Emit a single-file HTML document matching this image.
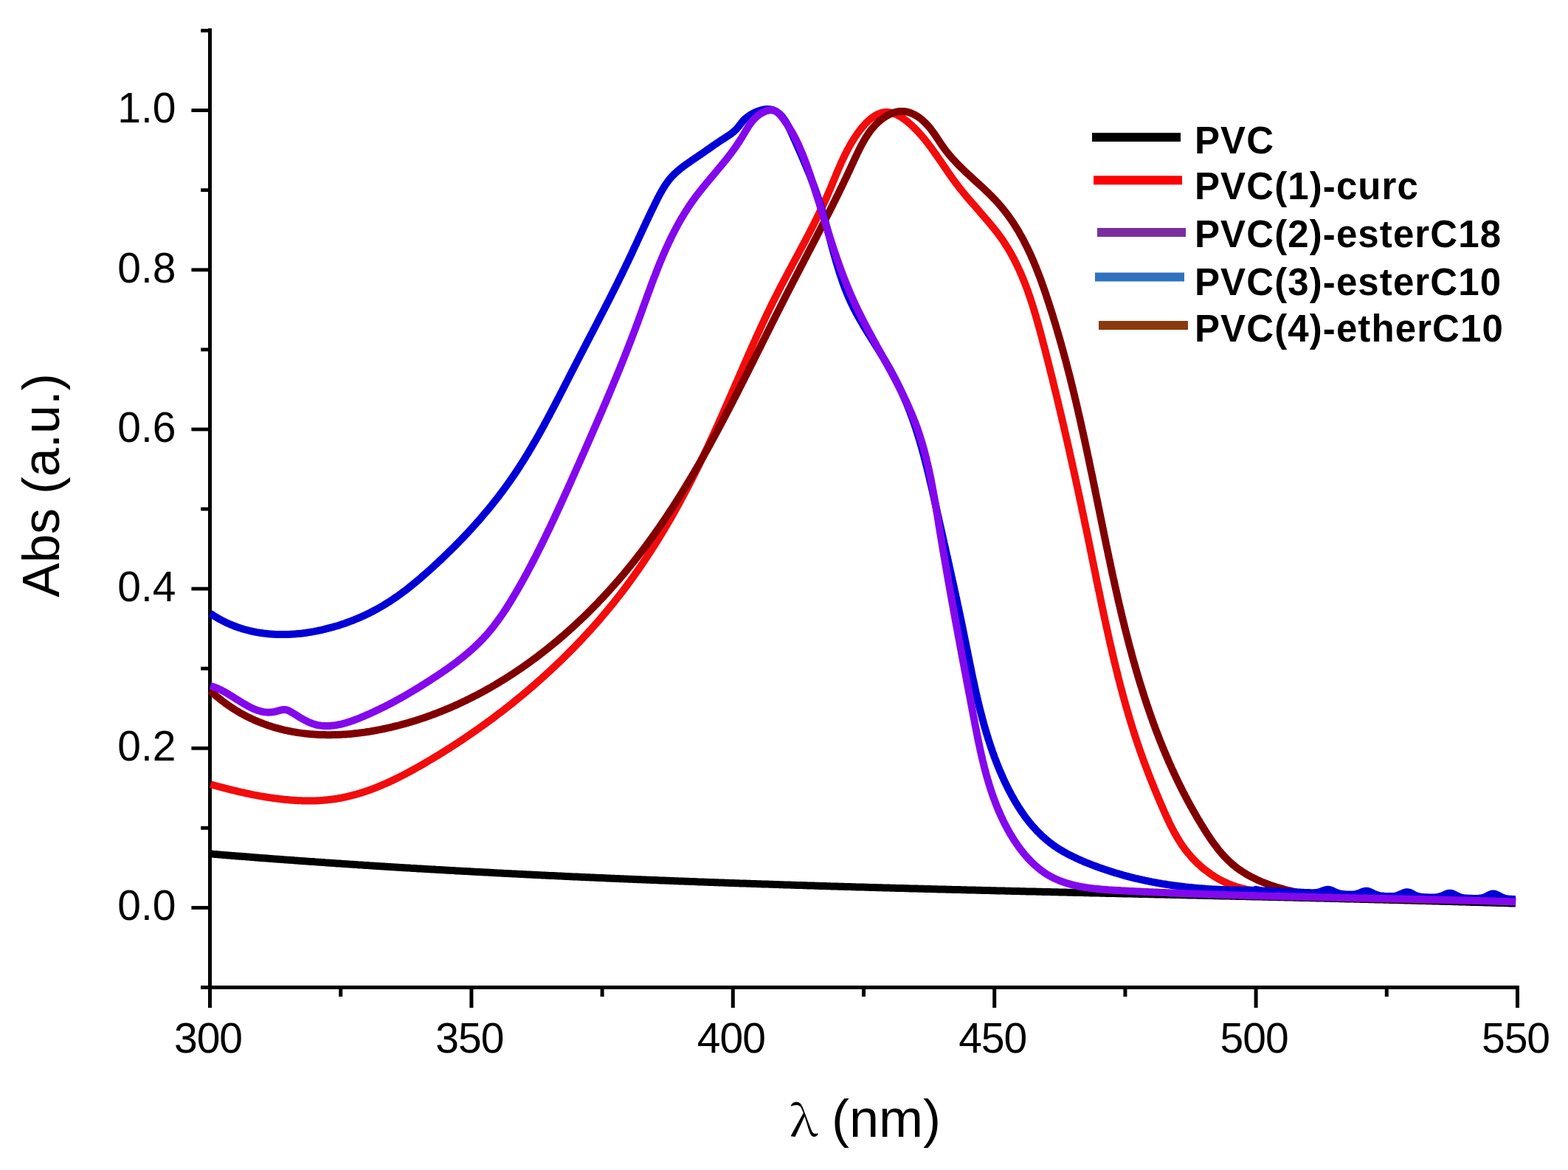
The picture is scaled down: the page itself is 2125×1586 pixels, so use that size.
<!DOCTYPE html>
<html>
<head>
<meta charset="utf-8">
<title>Abs spectra</title>
<style>
html, body { margin:0; padding:0; background:#fff; }
body { width:2125px; height:1586px; overflow:hidden; }
svg { display:block; font-family:'Liberation Sans', Arial, Helvetica, sans-serif; fill:#000; }
</style>
</head>
<body>
<svg xmlns="http://www.w3.org/2000/svg" width="2125" height="1586" viewBox="0 0 2125 1586">
<rect width="2125" height="1586" fill="#fff"/>
<rect x="282.0" y="38.4" width="5.0" height="1302.6" fill="#000"/>
<rect x="272.2" y="1336.0" width="1786.8" height="5.0" fill="#000"/>
<rect x="272.2" y="1336.2" width="14.8" height="4.8" fill="#000"/>
<rect x="259.4" y="1228.1" width="27.6" height="4.8" fill="#000"/>
<rect x="272.2" y="1120.0" width="14.8" height="4.8" fill="#000"/>
<rect x="259.4" y="1011.9" width="27.6" height="4.8" fill="#000"/>
<rect x="272.2" y="903.8" width="14.8" height="4.8" fill="#000"/>
<rect x="259.4" y="795.7" width="27.6" height="4.8" fill="#000"/>
<rect x="272.2" y="687.6" width="14.8" height="4.8" fill="#000"/>
<rect x="259.4" y="579.6" width="27.6" height="4.8" fill="#000"/>
<rect x="272.2" y="471.5" width="14.8" height="4.8" fill="#000"/>
<rect x="259.4" y="363.4" width="27.6" height="4.8" fill="#000"/>
<rect x="272.2" y="255.3" width="14.8" height="4.8" fill="#000"/>
<rect x="259.4" y="147.2" width="27.6" height="4.8" fill="#000"/>
<rect x="272.2" y="39.1" width="14.8" height="4.8" fill="#000"/>
<rect x="282.0" y="1336.0" width="5" height="30.2" fill="#000"/>
<rect x="459.2" y="1336.0" width="5" height="15.0" fill="#000"/>
<rect x="636.4" y="1336.0" width="5" height="30.2" fill="#000"/>
<rect x="813.6" y="1336.0" width="5" height="15.0" fill="#000"/>
<rect x="990.8" y="1336.0" width="5" height="30.2" fill="#000"/>
<rect x="1168.0" y="1336.0" width="5" height="15.0" fill="#000"/>
<rect x="1345.2" y="1336.0" width="5" height="30.2" fill="#000"/>
<rect x="1522.4" y="1336.0" width="5" height="15.0" fill="#000"/>
<rect x="1699.6" y="1336.0" width="5" height="30.2" fill="#000"/>
<rect x="1876.8" y="1336.0" width="5" height="15.0" fill="#000"/>
<rect x="2054.0" y="1336.0" width="5" height="30.2" fill="#000"/>
<text x="238.5" y="1247.3" text-anchor="end" font-size="57">0.0</text>
<text x="238.5" y="1031.1" text-anchor="end" font-size="57">0.2</text>
<text x="238.5" y="814.9" text-anchor="end" font-size="57">0.4</text>
<text x="238.5" y="598.8" text-anchor="end" font-size="57">0.6</text>
<text x="238.5" y="382.6" text-anchor="end" font-size="57">0.8</text>
<text x="238.5" y="166.4" text-anchor="end" font-size="57">1.0</text>
<text x="282.0" y="1426.5" text-anchor="middle" font-size="57" letter-spacing="-1">300</text>
<text x="636.4" y="1426.5" text-anchor="middle" font-size="57" letter-spacing="-1">350</text>
<text x="990.8" y="1426.5" text-anchor="middle" font-size="57" letter-spacing="-1">400</text>
<text x="1345.2" y="1426.5" text-anchor="middle" font-size="57" letter-spacing="-1">450</text>
<text x="1699.6" y="1426.5" text-anchor="middle" font-size="57" letter-spacing="-1">500</text>
<text x="2054.0" y="1426.5" text-anchor="middle" font-size="57" letter-spacing="-1">550</text>
<text transform="translate(79.5,658) rotate(-90)" text-anchor="middle" font-size="70">Abs (a.u.)</text>
<text transform="translate(1070.3,1539.7) scale(1.13,1)" font-size="58" font-family="'Noto Serif CJK SC', 'Liberation Serif', serif">λ</text>
<text x="1127" y="1540.6" font-size="72">(nm)</text>
<path d="M284.9,1157.4 286.9,1157.6 288.9,1157.8 290.8,1157.9 292.8,1158.1 294.8,1158.3 296.8,1158.4 298.8,1158.6 300.8,1158.7 302.8,1158.9 304.8,1159.1 306.8,1159.2 308.8,1159.4 310.8,1159.6 312.8,1159.7 314.8,1159.9 316.8,1160.0 318.8,1160.2 320.8,1160.4 322.8,1160.5 324.8,1160.7 326.8,1160.8 328.8,1161.0 330.8,1161.1 332.8,1161.3 334.8,1161.5 336.8,1161.6 338.8,1161.8 340.8,1161.9 342.8,1162.1 344.7,1162.2 346.7,1162.4 348.7,1162.5 350.7,1162.7 352.7,1162.9 354.7,1163.0 356.7,1163.2 358.7,1163.3 360.7,1163.5 362.7,1163.6 364.7,1163.8 366.7,1163.9 368.7,1164.1 370.7,1164.2 372.7,1164.4 374.7,1164.5 376.7,1164.7 378.7,1164.8 380.7,1165.0 382.7,1165.1 384.7,1165.3 386.7,1165.4 388.7,1165.6 390.7,1165.7 392.7,1165.8 394.7,1166.0 396.7,1166.1 398.7,1166.3 400.7,1166.4 402.7,1166.6 404.7,1166.7 406.7,1166.9 408.7,1167.0 410.7,1167.2 412.7,1167.3 414.6,1167.4 416.6,1167.6 418.6,1167.7 420.6,1167.9 422.6,1168.0 424.6,1168.1 426.6,1168.3 428.6,1168.4 430.6,1168.6 432.6,1168.7 434.6,1168.8 436.6,1169.0 438.6,1169.1 440.6,1169.3 442.6,1169.4 444.6,1169.5 446.6,1169.7 448.6,1169.8 450.6,1170.0 452.6,1170.1 454.6,1170.2 456.6,1170.4 458.6,1170.5 460.6,1170.6 462.6,1170.8 464.6,1170.9 466.6,1171.0 468.6,1171.2 470.6,1171.3 472.6,1171.4 474.6,1171.6 476.6,1171.7 478.6,1171.8 480.6,1172.0 482.6,1172.1 484.6,1172.2 486.6,1172.4 488.6,1172.5 490.6,1172.6 492.6,1172.8 494.6,1172.9 496.6,1173.0 498.6,1173.1 500.6,1173.3 502.6,1173.4 504.6,1173.5 506.6,1173.7 508.6,1173.8 510.6,1173.9 512.6,1174.0 514.5,1174.2 516.5,1174.3 518.5,1174.4 520.5,1174.5 522.5,1174.7 524.5,1174.8 526.5,1174.9 528.5,1175.0 530.5,1175.2 532.5,1175.3 534.5,1175.4 536.5,1175.5 538.5,1175.7 540.5,1175.8 542.5,1175.9 544.5,1176.0 546.5,1176.2 548.5,1176.3 550.5,1176.4 552.5,1176.5 554.5,1176.6 556.5,1176.8 558.5,1176.9 560.5,1177.0 562.5,1177.1 564.5,1177.2 566.5,1177.4 568.5,1177.5 570.5,1177.6 572.5,1177.7 574.5,1177.8 576.5,1177.9 578.5,1178.1 580.5,1178.2 582.5,1178.3 584.5,1178.4 586.5,1178.5 588.5,1178.6 590.5,1178.8 592.5,1178.9 594.5,1179.0 596.5,1179.1 598.5,1179.2 600.5,1179.3 602.5,1179.5 604.5,1179.6 606.5,1179.7 608.5,1179.8 610.5,1179.9 612.5,1180.0 614.5,1180.1 616.5,1180.2 618.5,1180.4 620.5,1180.5 622.5,1180.6 624.5,1180.7 626.5,1180.8 628.5,1180.9 630.5,1181.0 632.5,1181.1 634.5,1181.2 636.5,1181.3 638.5,1181.5 640.5,1181.6 642.5,1181.7 644.5,1181.8 646.5,1181.9 648.5,1182.0 650.5,1182.1 652.5,1182.2 654.5,1182.3 656.5,1182.4 658.5,1182.5 660.5,1182.6 662.5,1182.7 664.5,1182.8 666.5,1183.0 668.5,1183.1 670.5,1183.2 672.5,1183.3 674.5,1183.4 676.5,1183.5 678.5,1183.6 680.5,1183.7 682.5,1183.8 684.5,1183.9 686.5,1184.0 688.5,1184.1 690.5,1184.2 692.5,1184.3 694.5,1184.4 696.5,1184.5 698.5,1184.6 700.5,1184.7 702.5,1184.8 704.5,1184.9 706.5,1185.0 708.5,1185.1 710.5,1185.2 712.5,1185.3 714.5,1185.4 716.5,1185.5 718.5,1185.6 720.5,1185.7 722.5,1185.8 724.5,1185.9 726.5,1186.0 728.5,1186.1 730.5,1186.2 732.5,1186.3 734.5,1186.4 736.5,1186.5 738.5,1186.6 740.5,1186.7 742.5,1186.8 744.5,1186.9 746.5,1187.0 748.5,1187.0 750.5,1187.1 752.5,1187.2 754.5,1187.3 756.5,1187.4 758.5,1187.5 760.5,1187.6 762.5,1187.7 764.5,1187.8 766.5,1187.9 768.5,1188.0 770.5,1188.1 772.5,1188.2 774.5,1188.3 776.5,1188.4 778.5,1188.4 780.5,1188.5 782.5,1188.6 784.5,1188.7 786.5,1188.8 788.5,1188.9 790.5,1189.0 792.5,1189.1 794.5,1189.2 796.5,1189.3 798.5,1189.3 800.5,1189.4 802.5,1189.5 804.5,1189.6 806.5,1189.7 808.5,1189.8 810.5,1189.9 812.5,1190.0 814.5,1190.1 816.5,1190.1 818.5,1190.2 820.5,1190.3 822.5,1190.4 824.5,1190.5 826.5,1190.6 828.5,1190.7 830.5,1190.7 832.5,1190.8 834.5,1190.9 836.5,1191.0 838.5,1191.1 840.5,1191.2 842.5,1191.3 844.5,1191.3 846.5,1191.4 848.5,1191.5 850.5,1191.6 852.5,1191.7 854.5,1191.8 856.5,1191.8 858.5,1191.9 860.5,1192.0 862.5,1192.1 864.5,1192.2 866.5,1192.2 868.5,1192.3 870.5,1192.4 872.6,1192.5 874.6,1192.6 876.6,1192.7 878.6,1192.7 880.6,1192.8 882.6,1192.9 884.6,1193.0 886.6,1193.1 888.6,1193.1 890.6,1193.2 892.6,1193.3 894.6,1193.4 896.6,1193.5 898.6,1193.5 900.6,1193.6 902.6,1193.7 904.6,1193.8 906.6,1193.8 908.6,1193.9 910.6,1194.0 912.6,1194.1 914.6,1194.2 916.6,1194.2 918.6,1194.3 920.6,1194.4 922.6,1194.5 924.6,1194.5 926.6,1194.6 928.6,1194.7 930.6,1194.8 932.6,1194.8 934.6,1194.9 936.6,1195.0 938.6,1195.1 940.6,1195.1 942.6,1195.2 944.6,1195.3 946.6,1195.4 948.6,1195.4 950.6,1195.5 952.6,1195.6 954.6,1195.7 956.6,1195.7 958.6,1195.8 960.6,1195.9 962.6,1195.9 964.6,1196.0 966.6,1196.1 968.6,1196.2 970.6,1196.2 972.6,1196.3 974.6,1196.4 976.6,1196.5 978.6,1196.5 980.6,1196.6 982.6,1196.7 984.6,1196.7 986.6,1196.8 988.6,1196.9 990.6,1196.9 992.6,1197.0 994.7,1197.1 996.7,1197.2 998.7,1197.2 1000.7,1197.3 1002.7,1197.4 1004.7,1197.4 1006.7,1197.5 1008.7,1197.6 1010.7,1197.6 1012.7,1197.7 1014.7,1197.8 1016.7,1197.8 1018.7,1197.9 1020.7,1198.0 1022.7,1198.0 1024.7,1198.1 1026.7,1198.2 1028.7,1198.2 1030.7,1198.3 1032.7,1198.4 1034.7,1198.4 1036.7,1198.5 1038.7,1198.6 1040.7,1198.6 1042.7,1198.7 1044.7,1198.8 1046.7,1198.8 1048.7,1198.9 1050.7,1199.0 1052.7,1199.0 1054.7,1199.1 1056.7,1199.2 1058.7,1199.2 1060.7,1199.3 1062.7,1199.4 1064.7,1199.4 1066.7,1199.5 1068.7,1199.6 1070.7,1199.6 1072.7,1199.7 1074.7,1199.8 1076.7,1199.8 1078.7,1199.9 1080.7,1199.9 1082.7,1200.0 1084.7,1200.1 1086.7,1200.1 1088.8,1200.2 1090.8,1200.3 1092.8,1200.3 1094.8,1200.4 1096.8,1200.4 1098.8,1200.5 1100.8,1200.6 1102.8,1200.6 1104.8,1200.7 1106.8,1200.7 1108.8,1200.8 1110.8,1200.9 1112.8,1200.9 1114.8,1201.0 1116.8,1201.1 1118.8,1201.1 1120.8,1201.2 1122.8,1201.2 1124.8,1201.3 1126.8,1201.4 1128.8,1201.4 1130.8,1201.5 1132.8,1201.5 1134.8,1201.6 1136.8,1201.7 1138.8,1201.7 1140.8,1201.8 1142.8,1201.8 1144.8,1201.9 1146.8,1201.9 1148.8,1202.0 1150.8,1202.1 1152.8,1202.1 1154.8,1202.2 1156.8,1202.2 1158.8,1202.3 1160.8,1202.4 1162.8,1202.4 1164.8,1202.5 1166.8,1202.5 1168.8,1202.6 1170.9,1202.6 1172.9,1202.7 1174.9,1202.8 1176.9,1202.8 1178.9,1202.9 1180.9,1202.9 1182.9,1203.0 1184.9,1203.0 1186.9,1203.1 1188.9,1203.2 1190.9,1203.2 1192.9,1203.3 1194.9,1203.3 1196.9,1203.4 1198.9,1203.4 1200.9,1203.5 1202.9,1203.5 1204.9,1203.6 1206.9,1203.7 1208.9,1203.7 1210.9,1203.8 1212.9,1203.8 1214.9,1203.9 1216.9,1203.9 1218.9,1204.0 1220.9,1204.0 1222.9,1204.1 1224.9,1204.1 1226.9,1204.2 1228.9,1204.3 1230.9,1204.3 1232.9,1204.4 1234.9,1204.4 1236.9,1204.5 1238.9,1204.5 1240.9,1204.6 1242.9,1204.6 1244.9,1204.7 1247.0,1204.7 1249.0,1204.8 1251.0,1204.8 1253.0,1204.9 1255.0,1205.0 1257.0,1205.0 1259.0,1205.1 1261.0,1205.1 1263.0,1205.2 1265.0,1205.2 1267.0,1205.3 1269.0,1205.3 1271.0,1205.4 1273.0,1205.4 1275.0,1205.5 1277.0,1205.5 1279.0,1205.6 1281.0,1205.6 1283.0,1205.7 1285.0,1205.7 1287.0,1205.8 1289.0,1205.8 1291.0,1205.9 1293.0,1205.9 1295.0,1206.0 1297.0,1206.0 1299.0,1206.1 1301.0,1206.1 1303.0,1206.2 1305.0,1206.2 1307.0,1206.3 1309.0,1206.3 1311.0,1206.4 1313.0,1206.4 1315.0,1206.5 1317.1,1206.5 1319.1,1206.6 1321.1,1206.6 1323.1,1206.7 1325.1,1206.7 1327.1,1206.8 1329.1,1206.8 1331.1,1206.9 1333.1,1206.9 1335.1,1207.0 1337.1,1207.0 1339.1,1207.1 1341.1,1207.1 1343.1,1207.2 1345.1,1207.2 1347.1,1207.3 1349.1,1207.3 1351.1,1207.4 1353.1,1207.4 1355.1,1207.5 1357.1,1207.5 1359.1,1207.6 1361.1,1207.6 1363.1,1207.7 1365.1,1207.7 1367.1,1207.8 1369.1,1207.8 1371.1,1207.9 1373.1,1207.9 1375.1,1208.0 1377.1,1208.0 1379.1,1208.1 1381.1,1208.1 1383.1,1208.2 1385.1,1208.2 1387.2,1208.3 1389.2,1208.3 1391.2,1208.4 1393.2,1208.4 1395.2,1208.5 1397.2,1208.5 1399.2,1208.5 1401.2,1208.6 1403.2,1208.6 1405.2,1208.7 1407.2,1208.7 1409.2,1208.8 1411.2,1208.8 1413.2,1208.9 1415.2,1208.9 1417.2,1209.0 1419.2,1209.0 1421.2,1209.1 1423.2,1209.1 1425.2,1209.2 1427.2,1209.2 1429.2,1209.3 1431.2,1209.3 1433.2,1209.3 1435.2,1209.4 1437.2,1209.4 1439.2,1209.5 1441.2,1209.5 1443.2,1209.6 1445.2,1209.6 1447.2,1209.7 1449.2,1209.7 1451.2,1209.8 1453.2,1209.8 1455.3,1209.9 1457.3,1209.9 1459.3,1210.0 1461.3,1210.0 1463.3,1210.0 1465.3,1210.1 1467.3,1210.1 1469.3,1210.2 1471.3,1210.2 1473.3,1210.3 1475.3,1210.3 1477.3,1210.4 1479.3,1210.4 1481.3,1210.5 1483.3,1210.5 1485.3,1210.6 1487.3,1210.6 1489.3,1210.6 1491.3,1210.7 1493.3,1210.7 1495.3,1210.8 1497.3,1210.8 1499.3,1210.9 1501.3,1210.9 1503.3,1211.0 1505.3,1211.0 1507.3,1211.1 1509.3,1211.1 1511.3,1211.1 1513.3,1211.2 1515.3,1211.2 1517.3,1211.3 1519.3,1211.3 1521.3,1211.4 1523.3,1211.4 1525.4,1211.5 1527.4,1211.5 1529.4,1211.6 1531.4,1211.6 1533.4,1211.6 1535.4,1211.7 1537.4,1211.7 1539.4,1211.8 1541.4,1211.8 1543.4,1211.9 1545.4,1211.9 1547.4,1212.0 1549.4,1212.0 1551.4,1212.1 1553.4,1212.1 1555.4,1212.1 1557.4,1212.2 1559.4,1212.2 1561.4,1212.3 1563.4,1212.3 1565.4,1212.4 1567.4,1212.4 1569.4,1212.5 1571.4,1212.5 1573.4,1212.5 1575.4,1212.6 1577.4,1212.6 1579.4,1212.7 1581.4,1212.7 1583.4,1212.8 1585.4,1212.8 1587.4,1212.9 1589.4,1212.9 1591.4,1213.0 1593.4,1213.0 1595.5,1213.0 1597.5,1213.1 1599.5,1213.1 1601.5,1213.2 1603.5,1213.2 1605.5,1213.3 1607.5,1213.3 1609.5,1213.4 1611.5,1213.4 1613.5,1213.5 1615.5,1213.5 1617.5,1213.5 1619.5,1213.6 1621.5,1213.6 1623.5,1213.7 1625.5,1213.7 1627.5,1213.8 1629.5,1213.8 1631.5,1213.9 1633.5,1213.9 1635.5,1213.9 1637.5,1214.0 1639.5,1214.0 1641.5,1214.1 1643.5,1214.1 1645.5,1214.2 1647.5,1214.2 1649.5,1214.3 1651.5,1214.3 1653.5,1214.4 1655.5,1214.4 1657.5,1214.4 1659.5,1214.5 1661.5,1214.5 1663.5,1214.6 1665.5,1214.6 1667.5,1214.7 1669.6,1214.7 1671.6,1214.8 1673.6,1214.8 1675.6,1214.9 1677.6,1214.9 1679.6,1215.0 1681.6,1215.0 1683.6,1215.0 1685.6,1215.1 1687.6,1215.1 1689.6,1215.2 1691.6,1215.2 1693.6,1215.3 1695.6,1215.3 1697.6,1215.4 1699.6,1215.4 1701.6,1215.5 1703.6,1215.5 1705.6,1215.5 1707.6,1215.6 1709.6,1215.6 1711.6,1215.7 1713.6,1215.7 1715.6,1215.8 1717.6,1215.8 1719.6,1215.9 1721.6,1215.9 1723.6,1216.0 1725.6,1216.0 1727.6,1216.1 1729.6,1216.1 1731.6,1216.2 1733.6,1216.2 1735.6,1216.2 1737.6,1216.3 1739.6,1216.3 1741.6,1216.4 1743.6,1216.4 1745.6,1216.5 1747.7,1216.5 1749.7,1216.6 1751.7,1216.6 1753.7,1216.7 1755.7,1216.7 1757.7,1216.8 1759.7,1216.8 1761.7,1216.9 1763.7,1216.9 1765.7,1217.0 1767.7,1217.0 1769.7,1217.0 1771.7,1217.1 1773.7,1217.1 1775.7,1217.2 1777.7,1217.2 1779.7,1217.3 1781.7,1217.3 1783.7,1217.4 1785.7,1217.4 1787.7,1217.5 1789.7,1217.5 1791.7,1217.6 1793.7,1217.6 1795.7,1217.7 1797.7,1217.7 1799.7,1217.8 1801.7,1217.8 1803.7,1217.9 1805.7,1217.9 1807.7,1218.0 1809.7,1218.0 1811.7,1218.1 1813.7,1218.1 1815.7,1218.2 1817.7,1218.2 1819.7,1218.3 1821.7,1218.3 1823.7,1218.4 1825.7,1218.4 1827.7,1218.5 1829.7,1218.5 1831.7,1218.6 1833.7,1218.6 1835.7,1218.7 1837.8,1218.7 1839.8,1218.8 1841.8,1218.8 1843.8,1218.9 1845.8,1218.9 1847.8,1219.0 1849.8,1219.0 1851.8,1219.1 1853.8,1219.1 1855.8,1219.2 1857.8,1219.2 1859.8,1219.3 1861.8,1219.3 1863.8,1219.4 1865.8,1219.4 1867.8,1219.5 1869.8,1219.5 1871.8,1219.6 1873.8,1219.6 1875.8,1219.7 1877.8,1219.7 1879.8,1219.8 1881.8,1219.8 1883.8,1219.9 1885.8,1219.9 1887.8,1220.0 1889.8,1220.0 1891.8,1220.1 1893.8,1220.1 1895.8,1220.2 1897.8,1220.2 1899.8,1220.3 1901.8,1220.3 1903.8,1220.4 1905.8,1220.4 1907.8,1220.5 1909.8,1220.5 1911.8,1220.6 1913.8,1220.7 1915.8,1220.7 1917.8,1220.8 1919.8,1220.8 1921.8,1220.9 1923.8,1220.9 1925.8,1221.0 1927.8,1221.0 1929.8,1221.1 1931.8,1221.1 1933.8,1221.2 1935.8,1221.2 1937.8,1221.3 1939.8,1221.3 1941.8,1221.4 1943.8,1221.5 1945.8,1221.5 1947.8,1221.6 1949.9,1221.6 1951.9,1221.7 1953.9,1221.7 1955.9,1221.8 1957.9,1221.8 1959.9,1221.9 1961.9,1222.0 1963.9,1222.0 1965.9,1222.1 1967.9,1222.1 1969.9,1222.2 1971.9,1222.2 1973.9,1222.3 1975.9,1222.3 1977.9,1222.4 1979.9,1222.5 1981.9,1222.5 1983.9,1222.6 1985.9,1222.6 1987.9,1222.7 1989.9,1222.7 1991.9,1222.8 1993.9,1222.9 1995.9,1222.9 1997.9,1223.0 1999.9,1223.0 2001.9,1223.1 2003.9,1223.1 2005.9,1223.2 2007.9,1223.3 2009.9,1223.3 2011.9,1223.4 2013.9,1223.4 2015.9,1223.5 2017.9,1223.5 2019.9,1223.6 2021.9,1223.7 2023.9,1223.7 2025.9,1223.8 2027.9,1223.8 2029.9,1223.9 2031.9,1224.0 2033.9,1224.0 2035.9,1224.1 2037.9,1224.1 2039.9,1224.2 2041.9,1224.3 2043.9,1224.3 2045.9,1224.4 2047.9,1224.4 2049.9,1224.5 2051.9,1224.6 2053.9,1224.6" fill="none" stroke="#000" stroke-width="10" stroke-linejoin="round" stroke-linecap="butt"/>
<path d="M285.4,1063.2 287.2,1063.7 289.0,1064.2 290.8,1064.7 292.6,1065.2 294.4,1065.7 296.2,1066.2 298.1,1066.7 299.9,1067.2 301.8,1067.7 303.7,1068.2 305.5,1068.7 307.4,1069.1 309.3,1069.6 311.2,1070.1 313.1,1070.6 315.0,1071.0 316.9,1071.5 318.9,1072.0 320.8,1072.4 322.7,1072.9 324.7,1073.3 326.6,1073.8 328.6,1074.2 330.6,1074.7 332.5,1075.1 334.5,1075.5 336.5,1075.9 338.5,1076.3 340.5,1076.8 342.5,1077.2 344.5,1077.6 346.5,1077.9 348.5,1078.3 350.5,1078.7 352.5,1079.1 354.5,1079.4 356.6,1079.8 358.6,1080.1 360.6,1080.5 362.7,1080.8 364.7,1081.1 366.7,1081.4 368.8,1081.7 370.8,1082.0 372.9,1082.3 374.9,1082.5 377.0,1082.8 379.0,1083.1 381.1,1083.3 383.1,1083.5 385.2,1083.7 387.2,1083.9 389.3,1084.1 391.3,1084.3 393.4,1084.5 395.4,1084.7 397.5,1084.8 399.5,1084.9 401.6,1085.1 403.6,1085.2 405.7,1085.3 407.7,1085.3 409.8,1085.4 411.8,1085.5 413.9,1085.5 415.9,1085.5 418.0,1085.5 420.0,1085.5 422.0,1085.5 424.1,1085.5 426.1,1085.4 428.1,1085.4 430.1,1085.3 432.2,1085.2 434.2,1085.1 436.2,1084.9 438.2,1084.8 440.2,1084.6 442.2,1084.4 444.2,1084.2 446.2,1084.0 448.1,1083.8 450.1,1083.5 452.1,1083.3 454.1,1083.0 456.0,1082.7 458.0,1082.4 459.9,1082.0 461.9,1081.7 463.8,1081.3 465.7,1080.9 467.7,1080.5 469.6,1080.1 471.5,1079.6 473.4,1079.2 475.3,1078.7 477.3,1078.2 479.2,1077.7 481.1,1077.2 482.9,1076.7 484.8,1076.1 486.7,1075.6 488.6,1075.0 490.5,1074.4 492.3,1073.8 494.2,1073.2 496.1,1072.6 497.9,1071.9 499.8,1071.3 501.6,1070.6 503.5,1069.9 505.3,1069.3 507.2,1068.6 509.0,1067.8 510.8,1067.1 512.7,1066.4 514.5,1065.6 516.3,1064.9 518.1,1064.1 519.9,1063.3 521.8,1062.5 523.6,1061.7 525.4,1060.9 527.2,1060.1 529.0,1059.3 530.8,1058.4 532.6,1057.6 534.3,1056.7 536.1,1055.9 537.9,1055.0 539.7,1054.1 541.5,1053.2 543.2,1052.3 545.0,1051.4 546.8,1050.5 548.5,1049.6 550.3,1048.7 552.1,1047.7 553.8,1046.8 555.6,1045.9 557.3,1044.9 559.1,1043.9 560.8,1043.0 562.6,1042.0 564.3,1041.0 566.1,1040.0 567.8,1039.1 569.5,1038.1 571.3,1037.1 573.0,1036.1 574.7,1035.1 576.5,1034.1 578.2,1033.0 579.9,1032.0 581.6,1031.0 583.4,1030.0 585.1,1029.0 586.8,1027.9 588.5,1026.9 590.2,1025.9 591.9,1024.8 593.7,1023.8 595.4,1022.7 597.1,1021.7 598.8,1020.6 600.5,1019.6 602.2,1018.5 603.9,1017.4 605.6,1016.4 607.3,1015.3 609.0,1014.2 610.7,1013.1 612.3,1012.0 614.0,1011.0 615.7,1009.9 617.4,1008.8 619.1,1007.7 620.8,1006.6 622.4,1005.5 624.1,1004.4 625.8,1003.3 627.5,1002.1 629.1,1001.0 630.8,999.9 632.5,998.8 634.1,997.6 635.8,996.5 637.4,995.4 639.1,994.2 640.7,993.1 642.4,991.9 644.0,990.8 645.7,989.6 647.3,988.5 649.0,987.3 650.6,986.2 652.3,985.0 653.9,983.8 655.5,982.7 657.1,981.5 658.8,980.3 660.4,979.1 662.0,977.9 663.6,976.7 665.3,975.6 666.9,974.4 668.5,973.2 670.1,972.0 671.7,970.7 673.3,969.5 674.9,968.3 676.5,967.1 678.1,965.9 679.7,964.7 681.3,963.4 682.9,962.2 684.5,961.0 686.1,959.7 687.7,958.5 689.2,957.3 690.8,956.0 692.4,954.8 694.0,953.5 695.5,952.3 697.1,951.0 698.7,949.7 700.2,948.5 701.8,947.2 703.3,945.9 704.9,944.6 706.4,943.4 708.0,942.1 709.5,940.8 711.1,939.5 712.6,938.2 714.1,936.9 715.7,935.6 717.2,934.3 718.7,933.0 720.3,931.7 721.8,930.4 723.3,929.1 724.8,927.8 726.3,926.4 727.8,925.1 729.3,923.8 730.8,922.5 732.4,921.1 733.8,919.8 735.3,918.4 736.8,917.1 738.3,915.8 739.8,914.4 741.3,913.0 742.8,911.7 744.2,910.3 745.7,909.0 747.2,907.6 748.7,906.2 750.1,904.9 751.6,903.5 753.0,902.1 754.5,900.7 755.9,899.3 757.4,898.0 758.8,896.6 760.3,895.2 761.7,893.8 763.2,892.4 764.6,891.0 766.0,889.6 767.4,888.1 768.9,886.7 770.3,885.3 771.7,883.9 773.1,882.5 774.5,881.0 775.9,879.6 777.3,878.2 778.7,876.8 780.1,875.3 781.5,873.9 782.9,872.4 784.3,871.0 785.7,869.5 787.0,868.1 788.4,866.6 789.8,865.2 791.1,863.7 792.5,862.2 793.9,860.8 795.2,859.3 796.6,857.8 797.9,856.3 799.3,854.9 800.6,853.4 801.9,851.9 803.3,850.4 804.6,848.9 805.9,847.4 807.3,845.9 808.6,844.4 809.9,842.9 811.2,841.4 812.5,839.9 813.8,838.4 815.1,836.9 816.4,835.3 817.7,833.8 819.0,832.3 820.3,830.8 821.6,829.2 822.8,827.7 824.1,826.2 825.4,824.6 826.7,823.1 827.9,821.5 829.2,820.0 830.4,818.4 831.7,816.9 832.9,815.3 834.2,813.8 835.4,812.2 836.6,810.6 837.9,809.1 839.1,807.5 840.3,805.9 841.5,804.3 842.8,802.8 844.0,801.2 845.2,799.6 846.4,798.0 847.6,796.4 848.8,794.8 850.0,793.2 851.1,791.6 852.3,790.0 853.5,788.4 854.7,786.8 855.8,785.2 857.0,783.6 858.2,781.9 859.3,780.3 860.5,778.7 861.6,777.1 862.8,775.4 863.9,773.8 865.1,772.2 866.2,770.5 867.3,768.9 868.5,767.3 869.6,765.6 870.7,764.0 871.8,762.3 872.9,760.7 874.0,759.0 875.1,757.4 876.3,755.7 877.3,754.0 878.4,752.4 879.5,750.7 880.6,749.0 881.7,747.4 882.8,745.7 883.9,744.0 884.9,742.3 886.0,740.6 887.1,739.0 888.1,737.3 889.2,735.6 890.2,733.9 891.3,732.2 892.4,730.5 893.4,728.8 894.4,727.1 895.5,725.4 896.5,723.7 897.5,722.0 898.6,720.3 899.6,718.6 900.6,716.9 901.6,715.2 902.7,713.4 903.7,711.7 904.7,710.0 905.7,708.3 906.7,706.6 907.7,704.8 908.7,703.1 909.7,701.4 910.7,699.6 911.7,697.9 912.6,696.2 913.6,694.4 914.6,692.7 915.6,690.9 916.6,689.2 917.5,687.5 918.5,685.7 919.5,684.0 920.4,682.2 921.4,680.5 922.3,678.7 923.3,676.9 924.2,675.2 925.2,673.4 926.1,671.7 927.1,669.9 928.0,668.1 928.9,666.4 929.9,664.6 930.8,662.8 931.7,661.0 932.7,659.3 933.6,657.5 934.5,655.7 935.4,653.9 936.3,652.2 937.2,650.4 938.2,648.6 939.1,646.8 940.0,645.0 940.9,643.2 941.8,641.4 942.7,639.7 943.6,637.9 944.5,636.1 945.3,634.3 946.2,632.5 947.1,630.7 948.0,628.9 948.9,627.1 949.8,625.3 950.6,623.5 951.5,621.7 952.4,619.9 953.2,618.1 954.1,616.2 955.0,614.4 955.8,612.6 956.7,610.8 957.6,609.0 958.4,607.2 959.3,605.4 960.1,603.6 961.0,601.7 961.8,599.9 962.7,598.1 963.5,596.3 964.3,594.5 965.2,592.6 966.0,590.8 966.8,589.0 967.7,587.2 968.5,585.3 969.3,583.5 970.2,581.7 971.0,579.8 971.8,578.0 972.6,576.2 973.5,574.3 974.3,572.5 975.1,570.7 975.9,568.8 976.7,567.0 977.6,565.2 978.4,563.3 979.2,561.5 980.0,559.7 980.8,557.8 981.6,556.0 982.4,554.2 983.2,552.3 984.0,550.5 984.8,548.6 985.7,546.8 986.5,545.0 987.3,543.1 988.1,541.3 988.9,539.4 989.7,537.6 990.5,535.8 991.3,533.9 992.1,532.1 992.9,530.2 993.7,528.4 994.5,526.5 995.3,524.7 996.1,522.9 996.9,521.0 997.7,519.2 998.5,517.3 999.3,515.5 1000.1,513.7 1000.9,511.8 1001.7,510.0 1002.5,508.1 1003.3,506.3 1004.1,504.5 1004.9,502.6 1005.7,500.8 1006.5,498.9 1007.3,497.1 1008.1,495.3 1008.9,493.4 1009.7,491.6 1010.5,489.7 1011.3,487.9 1012.1,486.1 1012.9,484.2 1013.7,482.4 1014.5,480.6 1015.3,478.7 1016.2,476.9 1017.0,475.1 1017.8,473.2 1018.6,471.4 1019.4,469.6 1020.2,467.8 1021.0,465.9 1021.9,464.1 1022.7,462.3 1023.5,460.5 1024.3,458.6 1025.2,456.8 1026.0,455.0 1026.8,453.2 1027.6,451.3 1028.5,449.5 1029.3,447.7 1030.1,445.9 1031.0,444.1 1031.8,442.3 1032.7,440.5 1033.5,438.6 1034.4,436.8 1035.2,435.0 1036.0,433.2 1036.9,431.4 1037.8,429.6 1038.6,427.8 1039.5,426.0 1040.3,424.2 1041.2,422.4 1042.1,420.6 1042.9,418.8 1043.8,417.0 1044.7,415.2 1045.5,413.4 1046.4,411.6 1047.3,409.9 1048.2,408.1 1049.1,406.3 1050.0,404.5 1050.9,402.7 1051.8,401.0 1052.7,399.2 1053.6,397.4 1054.5,395.6 1055.4,393.9 1056.3,392.1 1057.2,390.3 1058.1,388.6 1059.0,386.8 1059.9,385.0 1060.9,383.3 1061.8,381.5 1062.7,379.8 1063.6,378.0 1064.6,376.2 1065.5,374.5 1066.4,372.7 1067.4,371.0 1068.3,369.2 1069.2,367.5 1070.2,365.7 1071.1,364.0 1072.1,362.2 1073.0,360.4 1073.9,358.7 1074.9,356.9 1075.8,355.2 1076.8,353.4 1077.7,351.7 1078.6,349.9 1079.6,348.2 1080.5,346.4 1081.5,344.7 1082.4,342.9 1083.3,341.2 1084.3,339.4 1085.2,337.7 1086.2,335.9 1087.1,334.1 1088.0,332.4 1089.0,330.6 1089.9,328.9 1090.8,327.1 1091.8,325.3 1092.7,323.6 1093.6,321.8 1094.5,320.0 1095.5,318.3 1096.4,316.5 1097.3,314.7 1098.2,312.9 1099.1,311.2 1100.1,309.4 1101.0,307.6 1101.9,305.8 1102.8,304.0 1103.7,302.2 1104.6,300.4 1105.5,298.7 1106.4,296.9 1107.2,295.1 1108.1,293.3 1109.0,291.5 1109.9,289.6 1110.8,287.8 1111.6,286.0 1112.5,284.2 1113.4,282.4 1114.2,280.6 1115.1,278.7 1115.9,276.9 1116.8,275.1 1117.6,273.2 1118.4,271.4 1119.3,269.6 1120.1,267.7 1120.9,265.9 1121.7,264.0 1122.5,262.1 1123.3,260.3 1124.1,258.4 1124.9,256.5 1125.7,254.7 1126.5,252.8 1127.3,250.9 1128.1,249.0 1128.8,247.1 1129.6,245.2 1130.4,243.4 1131.2,241.5 1132.0,239.6 1132.7,237.7 1133.5,235.8 1134.3,233.9 1135.1,232.0 1135.9,230.1 1136.7,228.2 1137.6,226.4 1138.4,224.5 1139.2,222.6 1140.0,220.7 1140.9,218.8 1141.8,217.0 1142.6,215.1 1143.5,213.2 1144.4,211.4 1145.3,209.5 1146.2,207.7 1147.2,205.8 1148.1,204.0 1149.1,202.2 1150.1,200.4 1151.1,198.5 1152.1,196.7 1153.1,194.9 1154.2,193.1 1155.3,191.4 1156.4,189.6 1157.5,187.8 1158.6,186.1 1159.8,184.3 1161.0,182.6 1162.2,180.8 1163.5,179.1 1164.7,177.4 1166.0,175.8 1167.3,174.1 1168.6,172.5 1170.0,171.0 1171.3,169.4 1172.7,167.9 1174.1,166.5 1175.5,165.1 1177.0,163.7 1178.4,162.4 1179.9,161.2 1181.4,160.0 1182.9,158.9 1184.4,157.9 1185.9,156.9 1187.5,156.0 1189.0,155.2 1190.6,154.5 1192.2,153.8 1193.7,153.3 1195.3,152.8 1196.9,152.5 1198.6,152.2 1200.2,152.1 1201.8,152.0 1203.5,152.1 1205.1,152.3 1206.7,152.6 1208.4,153.0 1210.1,153.4 1211.7,154.0 1213.4,154.6 1215.0,155.4 1216.7,156.2 1218.3,157.1 1219.9,158.0 1221.6,159.0 1223.2,160.1 1224.8,161.2 1226.4,162.4 1228.0,163.6 1229.6,164.8 1231.1,166.1 1232.7,167.5 1234.2,168.8 1235.7,170.2 1237.2,171.6 1238.7,173.0 1240.1,174.5 1241.6,175.9 1243.0,177.4 1244.4,178.9 1245.8,180.4 1247.1,181.9 1248.5,183.4 1249.8,185.0 1251.1,186.5 1252.4,188.1 1253.7,189.7 1255.0,191.3 1256.3,192.9 1257.5,194.5 1258.8,196.2 1260.0,197.8 1261.3,199.4 1262.5,201.1 1263.7,202.8 1264.9,204.4 1266.1,206.1 1267.3,207.8 1268.5,209.5 1269.7,211.2 1270.8,212.9 1272.0,214.6 1273.2,216.3 1274.3,218.0 1275.5,219.7 1276.7,221.4 1277.8,223.1 1279.0,224.8 1280.2,226.5 1281.3,228.2 1282.5,229.9 1283.6,231.6 1284.8,233.3 1286.0,235.0 1287.2,236.7 1288.3,238.4 1289.5,240.1 1290.7,241.8 1291.9,243.4 1293.1,245.1 1294.3,246.7 1295.5,248.4 1296.8,250.0 1298.0,251.6 1299.3,253.3 1300.5,254.9 1301.8,256.5 1303.0,258.0 1304.3,259.6 1305.6,261.2 1306.9,262.8 1308.2,264.3 1309.5,265.9 1310.8,267.4 1312.1,269.0 1313.4,270.5 1314.7,272.0 1316.0,273.6 1317.3,275.1 1318.7,276.6 1320.0,278.1 1321.3,279.6 1322.6,281.1 1323.9,282.6 1325.3,284.1 1326.6,285.6 1327.9,287.2 1329.2,288.7 1330.5,290.2 1331.8,291.7 1333.1,293.2 1334.4,294.7 1335.7,296.2 1337.0,297.7 1338.3,299.2 1339.6,300.7 1340.9,302.2 1342.1,303.8 1343.4,305.3 1344.6,306.8 1345.9,308.3 1347.1,309.9 1348.3,311.4 1349.6,313.0 1350.8,314.5 1352.0,316.1 1353.1,317.7 1354.3,319.2 1355.5,320.8 1356.6,322.4 1357.7,324.0 1358.9,325.6 1360.0,327.2 1361.0,328.9 1362.1,330.5 1363.2,332.2 1364.2,333.8 1365.3,335.5 1366.3,337.2 1367.3,338.8 1368.3,340.5 1369.3,342.2 1370.2,343.9 1371.2,345.6 1372.1,347.4 1373.0,349.1 1374.0,350.8 1374.9,352.6 1375.8,354.3 1376.6,356.1 1377.5,357.9 1378.4,359.6 1379.2,361.4 1380.1,363.2 1380.9,365.0 1381.7,366.8 1382.5,368.6 1383.3,370.4 1384.1,372.2 1384.9,374.1 1385.7,375.9 1386.4,377.7 1387.2,379.6 1387.9,381.4 1388.6,383.3 1389.4,385.1 1390.1,387.0 1390.8,388.9 1391.5,390.8 1392.2,392.6 1392.9,394.5 1393.5,396.4 1394.2,398.3 1394.9,400.2 1395.5,402.1 1396.1,404.0 1396.8,405.9 1397.4,407.8 1398.0,409.7 1398.7,411.6 1399.3,413.6 1399.9,415.5 1400.5,417.4 1401.1,419.3 1401.7,421.3 1402.3,423.2 1402.8,425.2 1403.4,427.1 1404.0,429.0 1404.5,431.0 1405.1,432.9 1405.7,434.9 1406.2,436.8 1406.8,438.8 1407.3,440.7 1407.9,442.7 1408.4,444.6 1408.9,446.6 1409.5,448.6 1410.0,450.5 1410.5,452.5 1411.0,454.4 1411.6,456.4 1412.1,458.4 1412.6,460.3 1413.1,462.3 1413.6,464.2 1414.1,466.2 1414.6,468.2 1415.2,470.1 1415.7,472.1 1416.2,474.0 1416.7,476.0 1417.2,478.0 1417.7,479.9 1418.2,481.9 1418.7,483.8 1419.2,485.8 1419.7,487.7 1420.2,489.7 1420.7,491.6 1421.2,493.6 1421.7,495.6 1422.2,497.5 1422.7,499.5 1423.2,501.4 1423.6,503.4 1424.1,505.3 1424.6,507.3 1425.1,509.2 1425.6,511.2 1426.1,513.1 1426.6,515.1 1427.0,517.0 1427.5,519.0 1428.0,520.9 1428.5,522.9 1429.0,524.8 1429.4,526.8 1429.9,528.7 1430.4,530.7 1430.9,532.6 1431.3,534.6 1431.8,536.5 1432.3,538.5 1432.7,540.4 1433.2,542.4 1433.7,544.3 1434.1,546.3 1434.6,548.2 1435.1,550.2 1435.5,552.1 1436.0,554.1 1436.5,556.0 1436.9,558.0 1437.4,559.9 1437.8,561.9 1438.3,563.8 1438.8,565.8 1439.2,567.7 1439.7,569.7 1440.1,571.6 1440.6,573.5 1441.0,575.5 1441.5,577.4 1441.9,579.4 1442.4,581.3 1442.8,583.3 1443.3,585.2 1443.7,587.2 1444.2,589.1 1444.6,591.1 1445.1,593.0 1445.5,595.0 1446.0,596.9 1446.4,598.8 1446.8,600.8 1447.3,602.7 1447.7,604.7 1448.2,606.6 1448.6,608.6 1449.0,610.5 1449.5,612.5 1449.9,614.4 1450.3,616.4 1450.8,618.3 1451.2,620.3 1451.6,622.2 1452.1,624.1 1452.5,626.1 1452.9,628.0 1453.4,630.0 1453.8,631.9 1454.2,633.9 1454.7,635.8 1455.1,637.8 1455.5,639.7 1455.9,641.7 1456.4,643.6 1456.8,645.6 1457.2,647.5 1457.6,649.4 1458.1,651.4 1458.5,653.3 1458.9,655.3 1459.3,657.2 1459.8,659.2 1460.2,661.1 1460.6,663.1 1461.0,665.0 1461.4,667.0 1461.9,668.9 1462.3,670.9 1462.7,672.8 1463.1,674.8 1463.5,676.7 1463.9,678.7 1464.4,680.6 1464.8,682.6 1465.2,684.5 1465.6,686.5 1466.0,688.4 1466.4,690.4 1466.8,692.3 1467.2,694.3 1467.7,696.2 1468.1,698.2 1468.5,700.1 1468.9,702.1 1469.3,704.0 1469.7,706.0 1470.1,708.0 1470.5,709.9 1470.9,711.9 1471.3,713.8 1471.7,715.8 1472.2,717.7 1472.6,719.7 1473.0,721.6 1473.4,723.6 1473.8,725.6 1474.2,727.5 1474.6,729.5 1475.0,731.4 1475.4,733.4 1475.8,735.3 1476.2,737.3 1476.6,739.3 1477.0,741.2 1477.4,743.2 1477.8,745.1 1478.2,747.1 1478.6,749.1 1479.0,751.0 1479.4,753.0 1479.8,754.9 1480.2,756.9 1480.6,758.9 1481.0,760.8 1481.4,762.8 1481.8,764.8 1482.2,766.7 1482.6,768.7 1483.0,770.7 1483.4,772.6 1483.8,774.6 1484.2,776.6 1484.6,778.5 1485.0,780.5 1485.4,782.5 1485.8,784.4 1486.2,786.4 1486.6,788.4 1487.0,790.3 1487.4,792.3 1487.8,794.3 1488.2,796.2 1488.6,798.2 1489.1,800.2 1489.5,802.1 1489.9,804.1 1490.3,806.1 1490.7,808.0 1491.1,810.0 1491.5,812.0 1491.9,813.9 1492.3,815.9 1492.7,817.9 1493.1,819.8 1493.5,821.8 1494.0,823.8 1494.4,825.7 1494.8,827.7 1495.2,829.7 1495.6,831.6 1496.0,833.6 1496.5,835.6 1496.9,837.5 1497.3,839.5 1497.7,841.5 1498.2,843.4 1498.6,845.4 1499.0,847.3 1499.4,849.3 1499.9,851.3 1500.3,853.2 1500.7,855.2 1501.2,857.2 1501.6,859.1 1502.0,861.1 1502.5,863.0 1502.9,865.0 1503.3,867.0 1503.8,868.9 1504.2,870.9 1504.7,872.8 1505.1,874.8 1505.6,876.8 1506.0,878.7 1506.5,880.7 1506.9,882.6 1507.4,884.6 1507.8,886.5 1508.3,888.5 1508.8,890.4 1509.2,892.4 1509.7,894.3 1510.1,896.3 1510.6,898.3 1511.1,900.2 1511.6,902.2 1512.0,904.1 1512.5,906.0 1513.0,908.0 1513.5,909.9 1514.0,911.9 1514.4,913.8 1514.9,915.8 1515.4,917.7 1515.9,919.7 1516.4,921.6 1516.9,923.5 1517.4,925.5 1517.9,927.4 1518.4,929.4 1518.9,931.3 1519.4,933.2 1520.0,935.2 1520.5,937.1 1521.0,939.0 1521.5,941.0 1522.0,942.9 1522.6,944.8 1523.1,946.8 1523.6,948.7 1524.2,950.6 1524.7,952.5 1525.2,954.5 1525.8,956.4 1526.3,958.3 1526.9,960.2 1527.4,962.1 1528.0,964.1 1528.6,966.0 1529.1,967.9 1529.7,969.8 1530.3,971.7 1530.8,973.6 1531.4,975.6 1532.0,977.5 1532.6,979.4 1533.1,981.3 1533.7,983.2 1534.3,985.1 1534.9,987.0 1535.5,988.9 1536.1,990.8 1536.7,992.7 1537.3,994.6 1537.9,996.5 1538.6,998.4 1539.2,1000.3 1539.8,1002.2 1540.4,1004.1 1541.1,1006.0 1541.7,1007.8 1542.3,1009.7 1543.0,1011.6 1543.6,1013.5 1544.3,1015.4 1544.9,1017.3 1545.6,1019.1 1546.3,1021.0 1546.9,1022.9 1547.6,1024.8 1548.3,1026.6 1548.9,1028.5 1549.6,1030.4 1550.3,1032.3 1551.0,1034.1 1551.7,1036.0 1552.4,1037.9 1553.1,1039.7 1553.8,1041.6 1554.5,1043.4 1555.2,1045.3 1555.9,1047.2 1556.6,1049.0 1557.3,1050.9 1558.1,1052.8 1558.8,1054.6 1559.5,1056.5 1560.3,1058.3 1561.0,1060.2 1561.7,1062.0 1562.5,1063.9 1563.2,1065.7 1564.0,1067.6 1564.7,1069.4 1565.5,1071.3 1566.3,1073.2 1567.0,1075.0 1567.8,1076.9 1568.6,1078.7 1569.4,1080.6 1570.1,1082.4 1570.9,1084.3 1571.7,1086.1 1572.5,1088.0 1573.3,1089.8 1574.1,1091.6 1574.9,1093.5 1575.7,1095.3 1576.5,1097.2 1577.3,1099.0 1578.1,1100.9 1579.0,1102.7 1579.8,1104.6 1580.6,1106.4 1581.5,1108.3 1582.3,1110.1 1583.2,1111.9 1584.0,1113.7 1584.9,1115.6 1585.8,1117.4 1586.7,1119.2 1587.6,1121.0 1588.5,1122.8 1589.4,1124.6 1590.4,1126.3 1591.3,1128.1 1592.3,1129.9 1593.3,1131.6 1594.3,1133.4 1595.3,1135.1 1596.3,1136.8 1597.4,1138.5 1598.4,1140.2 1599.5,1141.9 1600.6,1143.6 1601.7,1145.3 1602.8,1146.9 1604.0,1148.5 1605.2,1150.2 1606.4,1151.8 1607.6,1153.4 1608.8,1154.9 1610.1,1156.5 1611.4,1158.0 1612.7,1159.5 1614.0,1161.1 1615.3,1162.5 1616.7,1164.0 1618.0,1165.5 1619.4,1166.9 1620.8,1168.3 1622.3,1169.7 1623.7,1171.1 1625.2,1172.4 1626.7,1173.8 1628.2,1175.1 1629.7,1176.4 1631.2,1177.7 1632.8,1178.9 1634.4,1180.1 1636.0,1181.3 1637.6,1182.5 1639.2,1183.7 1640.8,1184.8 1642.5,1186.0 1644.1,1187.0 1645.8,1188.1 1647.5,1189.2 1649.2,1190.2 1650.9,1191.2 1652.7,1192.1 1654.4,1193.1 1656.2,1194.0 1658.0,1194.9 1659.8,1195.8 1661.6,1196.6 1663.4,1197.4 1665.2,1198.2 1667.0,1199.0 1668.9,1199.7 1670.8,1200.4 1672.6,1201.0 1674.5,1201.7 1676.4,1202.3 1678.3,1202.9 1680.2,1203.4 1682.2,1204.0 1684.1,1204.5 1686.0,1204.9 1688.0,1205.4 1690.0,1205.8 1691.9,1206.3 1693.9,1206.6 1695.9,1207.0 1697.9,1207.4 1699.8,1207.7 1701.8,1208.0 1703.8,1208.4 1705.8,1208.6 1707.8,1208.9 1709.8,1209.2 1711.8,1209.5 1713.8,1209.7 1715.8,1209.9 1717.9,1210.2 1719.9,1210.4 1721.9,1210.6 1723.9,1210.8 1725.9,1211.0 1727.9,1211.2 1729.9,1211.4 1731.9,1211.6 1733.9,1211.8 1735.9,1212.0 1737.9,1212.2 1739.9,1212.3 1741.9,1212.5 1743.9,1212.7 1745.9,1212.8 1747.9,1213.0 1749.9,1213.1 1751.9,1213.3 1753.9,1213.4 1755.9,1213.6 1757.9,1213.7 1759.9,1213.8 1761.9,1213.9 1763.9,1214.1 1765.9,1214.2 1767.9,1214.3 1769.9,1214.4 1771.9,1214.5 1773.9,1214.6 1775.9,1214.7 1777.9,1214.8 1779.9,1214.9 1781.9,1215.0 1783.9,1215.1 1785.8,1215.2 1787.8,1215.3 1789.8,1215.4 1791.8,1215.5 1793.8,1215.6 1795.8,1215.7 1797.8,1215.7 1799.8,1215.8 1801.8,1215.9 1803.8,1216.0 1805.8,1216.1 1807.8,1216.1 1809.8,1216.2 1811.8,1216.3 1813.8,1216.4 1815.8,1216.4 1817.8,1216.5 1819.8,1216.6 1821.8,1216.6 1823.8,1216.7 1825.8,1216.8 1827.8,1216.8 1829.8,1216.9 1831.8,1217.0 1833.8,1217.0 1835.8,1217.1 1837.8,1217.1 1839.8,1217.2 1841.8,1217.3 1843.8,1217.3 1845.8,1217.4 1847.8,1217.4 1849.8,1217.5 1851.8,1217.5 1853.8,1217.6 1855.8,1217.7 1857.8,1217.7 1859.8,1217.8 1861.8,1217.8 1863.8,1217.9 1865.8,1217.9 1867.8,1218.0 1869.8,1218.0 1871.8,1218.0 1873.8,1218.1 1875.8,1218.1 1877.8,1218.2 1879.8,1218.2 1881.8,1218.3 1883.8,1218.3 1885.8,1218.4 1887.8,1218.4 1889.8,1218.4 1891.8,1218.5 1893.8,1218.5 1895.8,1218.6 1897.8,1218.6 1899.8,1218.6 1901.8,1218.7 1903.8,1218.7 1905.8,1218.8 1907.8,1218.8 1909.8,1218.8 1911.8,1218.9 1913.8,1218.9 1915.8,1218.9 1917.8,1219.0 1919.8,1219.0 1921.8,1219.1 1923.8,1219.1 1925.8,1219.1 1927.9,1219.2 1929.9,1219.2 1931.9,1219.2 1933.9,1219.3 1935.9,1219.3 1937.9,1219.3 1939.9,1219.4 1941.9,1219.4 1943.9,1219.4 1945.9,1219.5 1947.9,1219.5 1949.9,1219.5 1951.9,1219.6 1953.9,1219.6 1955.9,1219.6 1957.9,1219.7 1959.9,1219.7 1961.9,1219.7 1963.9,1219.8 1965.9,1219.8 1967.9,1219.8 1969.9,1219.8 1971.9,1219.9 1973.9,1219.9 1975.9,1219.9 1977.9,1220.0 1979.9,1220.0 1981.9,1220.0 1983.9,1220.1 1985.9,1220.1 1987.9,1220.2 1989.9,1220.2 1991.9,1220.2 1994.0,1220.3 1996.0,1220.3 1998.0,1220.3 2000.0,1220.4 2002.0,1220.4 2004.0,1220.4 2006.0,1220.5 2008.0,1220.5 2010.0,1220.5 2012.0,1220.6 2014.0,1220.6 2016.0,1220.7 2018.0,1220.7 2020.0,1220.7 2022.0,1220.8 2024.0,1220.8 2026.0,1220.9 2028.0,1220.9 2030.0,1220.9 2032.0,1221.0 2034.0,1221.0 2036.0,1221.1 2038.0,1221.1 2040.0,1221.2 2042.0,1221.2 2044.0,1221.3 2046.0,1221.3 2048.0,1221.3 2050.0,1221.4 2052.0,1221.4 2054.0,1221.5" fill="none" stroke="#f20c0c" stroke-width="10" stroke-linejoin="round" stroke-linecap="butt"/>
<path d="M284.8,936.2 286.4,937.6 288.0,939.1 289.6,940.6 291.3,942.0 292.9,943.4 294.5,944.8 296.2,946.1 297.8,947.5 299.5,948.8 301.2,950.1 302.9,951.4 304.5,952.6 306.2,953.8 307.9,955.1 309.6,956.3 311.3,957.4 313.1,958.6 314.8,959.7 316.5,960.9 318.2,962.0 320.0,963.0 321.7,964.1 323.5,965.1 325.3,966.2 327.0,967.2 328.8,968.1 330.6,969.1 332.4,970.1 334.1,971.0 335.9,971.9 337.7,972.8 339.5,973.7 341.4,974.5 343.2,975.3 345.0,976.2 346.8,977.0 348.7,977.7 350.5,978.5 352.3,979.2 354.2,980.0 356.0,980.7 357.9,981.4 359.7,982.1 361.6,982.7 363.5,983.4 365.3,984.0 367.2,984.6 369.1,985.2 371.0,985.8 372.9,986.3 374.8,986.9 376.7,987.4 378.6,987.9 380.5,988.4 382.4,988.9 384.3,989.3 386.2,989.8 388.1,990.2 390.0,990.6 392.0,991.0 393.9,991.4 395.8,991.8 397.7,992.1 399.7,992.4 401.6,992.8 403.6,993.1 405.5,993.4 407.4,993.6 409.4,993.9 411.3,994.1 413.3,994.4 415.3,994.6 417.2,994.8 419.2,995.0 421.1,995.2 423.1,995.3 425.1,995.5 427.0,995.6 429.0,995.7 431.0,995.8 432.9,995.9 434.9,996.0 436.9,996.1 438.9,996.1 440.8,996.1 442.8,996.2 444.8,996.2 446.8,996.2 448.8,996.2 450.7,996.1 452.7,996.1 454.7,996.1 456.7,996.0 458.7,995.9 460.7,995.8 462.6,995.7 464.6,995.6 466.6,995.5 468.6,995.4 470.6,995.2 472.6,995.1 474.6,994.9 476.5,994.7 478.5,994.5 480.5,994.3 482.5,994.1 484.5,993.9 486.5,993.6 488.5,993.4 490.4,993.1 492.4,992.9 494.4,992.6 496.4,992.3 498.4,992.0 500.3,991.7 502.3,991.4 504.3,991.0 506.3,990.7 508.2,990.3 510.2,990.0 512.2,989.6 514.1,989.2 516.1,988.8 518.1,988.4 520.0,988.0 522.0,987.6 524.0,987.2 525.9,986.7 527.9,986.3 529.8,985.8 531.8,985.4 533.7,984.9 535.7,984.4 537.6,984.0 539.5,983.5 541.5,983.0 543.4,982.4 545.3,981.9 547.3,981.4 549.2,980.9 551.1,980.3 553.0,979.8 554.9,979.2 556.9,978.6 558.8,978.1 560.7,977.5 562.6,976.9 564.5,976.3 566.4,975.7 568.3,975.1 570.2,974.4 572.1,973.8 574.0,973.2 575.9,972.5 577.7,971.9 579.6,971.2 581.5,970.5 583.4,969.9 585.2,969.2 587.1,968.5 589.0,967.8 590.8,967.1 592.7,966.4 594.6,965.6 596.4,964.9 598.3,964.2 600.1,963.4 602.0,962.7 603.8,961.9 605.6,961.1 607.5,960.4 609.3,959.6 611.2,958.8 613.0,958.0 614.8,957.2 616.6,956.4 618.4,955.6 620.3,954.8 622.1,953.9 623.9,953.1 625.7,952.2 627.5,951.4 629.3,950.5 631.1,949.7 632.9,948.8 634.7,947.9 636.5,947.0 638.3,946.1 640.0,945.2 641.8,944.3 643.6,943.4 645.4,942.5 647.1,941.6 648.9,940.7 650.7,939.7 652.4,938.8 654.2,937.8 655.9,936.9 657.7,935.9 659.4,934.9 661.2,933.9 662.9,933.0 664.7,932.0 666.4,931.0 668.1,930.0 669.8,929.0 671.6,928.0 673.3,926.9 675.0,925.9 676.7,924.9 678.4,923.8 680.1,922.8 681.8,921.7 683.5,920.7 685.2,919.6 686.9,918.5 688.6,917.5 690.3,916.4 692.0,915.3 693.7,914.2 695.4,913.1 697.0,912.0 698.7,910.9 700.4,909.8 702.0,908.7 703.7,907.5 705.4,906.4 707.0,905.3 708.7,904.1 710.3,903.0 711.9,901.8 713.6,900.7 715.2,899.5 716.9,898.3 718.5,897.1 720.1,896.0 721.7,894.8 723.3,893.6 725.0,892.4 726.6,891.2 728.2,890.0 729.8,888.8 731.4,887.5 733.0,886.3 734.6,885.1 736.2,883.8 737.8,882.6 739.3,881.4 740.9,880.1 742.5,878.9 744.1,877.6 745.6,876.3 747.2,875.1 748.8,873.8 750.3,872.5 751.9,871.2 753.4,869.9 755.0,868.7 756.5,867.4 758.0,866.1 759.6,864.7 761.1,863.4 762.6,862.1 764.2,860.8 765.7,859.5 767.2,858.1 768.7,856.8 770.2,855.5 771.7,854.1 773.2,852.8 774.7,851.4 776.2,850.1 777.7,848.7 779.2,847.3 780.7,846.0 782.1,844.6 783.6,843.2 785.1,841.8 786.5,840.5 788.0,839.1 789.5,837.7 790.9,836.3 792.4,834.9 793.8,833.5 795.3,832.1 796.7,830.6 798.1,829.2 799.6,827.8 801.0,826.4 802.4,825.0 803.8,823.5 805.2,822.1 806.6,820.6 808.1,819.2 809.5,817.8 810.9,816.3 812.2,814.8 813.6,813.4 815.0,811.9 816.4,810.5 817.8,809.0 819.2,807.5 820.5,806.0 821.9,804.6 823.3,803.1 824.6,801.6 826.0,800.1 827.3,798.6 828.7,797.1 830.0,795.6 831.3,794.1 832.7,792.6 834.0,791.1 835.3,789.6 836.6,788.1 838.0,786.6 839.3,785.0 840.6,783.5 841.9,782.0 843.2,780.4 844.5,778.9 845.8,777.4 847.0,775.8 848.3,774.3 849.6,772.8 850.9,771.2 852.1,769.7 853.4,768.1 854.7,766.5 855.9,765.0 857.2,763.4 858.4,761.9 859.7,760.3 860.9,758.7 862.1,757.2 863.4,755.6 864.6,754.0 865.8,752.4 867.0,750.8 868.3,749.3 869.5,747.7 870.7,746.1 871.9,744.5 873.1,742.9 874.3,741.3 875.5,739.7 876.7,738.1 877.8,736.5 879.0,734.9 880.2,733.3 881.4,731.7 882.5,730.0 883.7,728.4 884.9,726.8 886.0,725.2 887.2,723.6 888.3,721.9 889.5,720.3 890.6,718.7 891.8,717.1 892.9,715.4 894.1,713.8 895.2,712.1 896.3,710.5 897.4,708.9 898.6,707.2 899.7,705.6 900.8,703.9 901.9,702.3 903.0,700.6 904.1,698.9 905.2,697.3 906.3,695.6 907.4,694.0 908.5,692.3 909.6,690.6 910.7,689.0 911.8,687.3 912.9,685.6 913.9,683.9 915.0,682.3 916.1,680.6 917.1,678.9 918.2,677.2 919.3,675.5 920.3,673.9 921.4,672.2 922.5,670.5 923.5,668.8 924.6,667.1 925.6,665.4 926.6,663.7 927.7,662.0 928.7,660.3 929.8,658.6 930.8,656.9 931.8,655.2 932.9,653.5 933.9,651.8 934.9,650.1 935.9,648.4 936.9,646.7 938.0,644.9 939.0,643.2 940.0,641.5 941.0,639.8 942.0,638.1 943.0,636.4 944.0,634.6 945.0,632.9 946.0,631.2 947.0,629.5 948.0,627.7 949.0,626.0 950.0,624.3 950.9,622.5 951.9,620.8 952.9,619.1 953.9,617.3 954.9,615.6 955.8,613.8 956.8,612.1 957.8,610.4 958.8,608.6 959.7,606.9 960.7,605.1 961.7,603.4 962.6,601.6 963.6,599.9 964.5,598.1 965.5,596.4 966.5,594.6 967.4,592.9 968.4,591.1 969.3,589.4 970.3,587.6 971.2,585.9 972.2,584.1 973.1,582.3 974.0,580.6 975.0,578.8 975.9,577.0 976.9,575.3 977.8,573.5 978.7,571.8 979.7,570.0 980.6,568.2 981.5,566.5 982.4,564.7 983.4,562.9 984.3,561.1 985.2,559.4 986.2,557.6 987.1,555.8 988.0,554.1 988.9,552.3 989.8,550.5 990.8,548.7 991.7,547.0 992.6,545.2 993.5,543.4 994.4,541.6 995.3,539.8 996.2,538.1 997.2,536.3 998.1,534.5 999.0,532.7 999.9,530.9 1000.8,529.2 1001.7,527.4 1002.6,525.6 1003.5,523.8 1004.4,522.0 1005.3,520.2 1006.2,518.5 1007.1,516.7 1008.0,514.9 1008.9,513.1 1009.8,511.3 1010.7,509.5 1011.6,507.8 1012.5,506.0 1013.4,504.2 1014.3,502.4 1015.2,500.6 1016.1,498.8 1017.0,497.0 1017.9,495.2 1018.8,493.5 1019.7,491.7 1020.6,489.9 1021.5,488.1 1022.4,486.3 1023.2,484.5 1024.1,482.7 1025.0,480.9 1025.9,479.1 1026.8,477.3 1027.7,475.6 1028.6,473.8 1029.5,472.0 1030.4,470.2 1031.3,468.4 1032.2,466.6 1033.1,464.8 1033.9,463.0 1034.8,461.2 1035.7,459.5 1036.6,457.7 1037.5,455.9 1038.4,454.1 1039.3,452.3 1040.2,450.5 1041.1,448.7 1042.0,446.9 1042.9,445.2 1043.8,443.4 1044.6,441.6 1045.5,439.8 1046.4,438.0 1047.3,436.2 1048.2,434.4 1049.1,432.7 1050.0,430.9 1050.9,429.1 1051.8,427.3 1052.7,425.5 1053.6,423.7 1054.5,421.9 1055.4,420.2 1056.3,418.4 1057.2,416.6 1058.1,414.8 1059.0,413.0 1059.9,411.3 1060.8,409.5 1061.7,407.7 1062.6,405.9 1063.5,404.2 1064.4,402.4 1065.3,400.6 1066.2,398.8 1067.1,397.1 1068.0,395.3 1069.0,393.5 1069.9,391.7 1070.8,390.0 1071.7,388.2 1072.6,386.4 1073.5,384.6 1074.4,382.9 1075.3,381.1 1076.3,379.3 1077.2,377.6 1078.1,375.8 1079.0,374.0 1079.9,372.3 1080.8,370.5 1081.8,368.7 1082.7,367.0 1083.6,365.2 1084.5,363.4 1085.4,361.6 1086.3,359.9 1087.3,358.1 1088.2,356.3 1089.1,354.6 1090.0,352.8 1090.9,351.0 1091.9,349.3 1092.8,347.5 1093.7,345.7 1094.6,343.9 1095.5,342.2 1096.5,340.4 1097.4,338.6 1098.3,336.9 1099.2,335.1 1100.2,333.3 1101.1,331.5 1102.0,329.8 1102.9,328.0 1103.8,326.2 1104.7,324.4 1105.7,322.7 1106.6,320.9 1107.5,319.1 1108.4,317.3 1109.3,315.5 1110.3,313.8 1111.2,312.0 1112.1,310.2 1113.0,308.4 1113.9,306.6 1114.8,304.8 1115.8,303.0 1116.7,301.3 1117.6,299.5 1118.5,297.7 1119.4,295.9 1120.3,294.1 1121.2,292.3 1122.1,290.5 1123.0,288.7 1124.0,286.9 1124.9,285.1 1125.8,283.3 1126.7,281.5 1127.6,279.7 1128.5,277.9 1129.4,276.1 1130.3,274.2 1131.2,272.4 1132.1,270.6 1133.0,268.8 1133.9,267.0 1134.8,265.2 1135.7,263.3 1136.6,261.5 1137.5,259.7 1138.3,257.9 1139.2,256.0 1140.1,254.2 1141.0,252.4 1141.9,250.5 1142.8,248.7 1143.7,246.8 1144.5,245.0 1145.4,243.2 1146.3,241.3 1147.2,239.5 1148.1,237.6 1148.9,235.7 1149.8,233.9 1150.7,232.0 1151.6,230.2 1152.4,228.3 1153.3,226.4 1154.1,224.6 1155.0,222.7 1155.9,220.8 1156.7,218.9 1157.6,217.1 1158.5,215.2 1159.3,213.3 1160.2,211.5 1161.1,209.6 1162.0,207.7 1162.9,205.9 1163.8,204.1 1164.7,202.2 1165.6,200.4 1166.5,198.6 1167.5,196.8 1168.4,195.0 1169.4,193.3 1170.4,191.5 1171.4,189.8 1172.4,188.1 1173.4,186.4 1174.5,184.7 1175.6,183.0 1176.7,181.4 1177.8,179.8 1178.9,178.2 1180.1,176.7 1181.3,175.1 1182.5,173.7 1183.8,172.2 1185.1,170.7 1186.4,169.3 1187.7,168.0 1189.1,166.6 1190.5,165.3 1191.9,164.1 1193.4,162.8 1194.9,161.7 1196.5,160.5 1198.0,159.4 1199.7,158.3 1201.3,157.3 1203.0,156.4 1204.7,155.5 1206.5,154.6 1208.3,153.8 1210.1,153.1 1211.9,152.5 1213.7,152.0 1215.5,151.6 1217.4,151.2 1219.2,151.0 1221.0,150.9 1222.9,150.9 1224.7,151.0 1226.5,151.2 1228.3,151.5 1230.1,151.9 1231.9,152.4 1233.7,153.0 1235.5,153.7 1237.2,154.5 1238.9,155.3 1240.7,156.2 1242.3,157.2 1244.0,158.3 1245.7,159.4 1247.3,160.6 1248.9,161.9 1250.4,163.2 1251.9,164.6 1253.4,166.0 1254.9,167.5 1256.3,169.0 1257.7,170.5 1259.1,172.1 1260.4,173.6 1261.7,175.3 1262.9,176.9 1264.1,178.6 1265.4,180.3 1266.6,182.0 1267.7,183.7 1268.9,185.4 1270.0,187.2 1271.2,188.9 1272.4,190.6 1273.5,192.4 1274.7,194.1 1275.8,195.8 1277.0,197.5 1278.2,199.2 1279.4,200.9 1280.6,202.5 1281.9,204.2 1283.1,205.8 1284.4,207.4 1285.7,209.0 1287.0,210.6 1288.3,212.1 1289.7,213.7 1291.0,215.2 1292.4,216.7 1293.8,218.2 1295.2,219.7 1296.6,221.2 1298.0,222.6 1299.4,224.1 1300.9,225.5 1302.3,227.0 1303.8,228.4 1305.2,229.8 1306.7,231.2 1308.1,232.6 1309.6,234.0 1311.1,235.4 1312.6,236.8 1314.1,238.1 1315.6,239.5 1317.1,240.9 1318.5,242.3 1320.0,243.6 1321.5,245.0 1323.0,246.4 1324.5,247.7 1326.0,249.1 1327.5,250.4 1329.0,251.8 1330.5,253.2 1331.9,254.5 1333.4,255.9 1334.9,257.3 1336.3,258.7 1337.8,260.0 1339.2,261.4 1340.6,262.8 1342.0,264.2 1343.5,265.6 1344.9,267.0 1346.2,268.5 1347.6,269.9 1349.0,271.3 1350.3,272.8 1351.7,274.2 1353.0,275.7 1354.3,277.2 1355.6,278.7 1356.9,280.2 1358.1,281.7 1359.4,283.2 1360.6,284.8 1361.8,286.3 1363.0,287.9 1364.2,289.4 1365.4,291.0 1366.6,292.6 1367.7,294.2 1368.9,295.8 1370.0,297.4 1371.1,299.0 1372.2,300.7 1373.3,302.3 1374.4,304.0 1375.4,305.6 1376.5,307.3 1377.5,309.0 1378.5,310.6 1379.6,312.3 1380.6,314.0 1381.6,315.7 1382.5,317.5 1383.5,319.2 1384.5,320.9 1385.4,322.6 1386.4,324.4 1387.3,326.1 1388.2,327.9 1389.1,329.7 1390.0,331.4 1390.9,333.2 1391.8,335.0 1392.7,336.8 1393.5,338.6 1394.4,340.4 1395.2,342.2 1396.1,344.0 1396.9,345.8 1397.7,347.6 1398.5,349.5 1399.3,351.3 1400.1,353.1 1400.9,355.0 1401.7,356.8 1402.4,358.7 1403.2,360.5 1404.0,362.4 1404.7,364.3 1405.4,366.1 1406.2,368.0 1406.9,369.9 1407.6,371.8 1408.4,373.6 1409.1,375.5 1409.8,377.4 1410.5,379.3 1411.2,381.2 1411.8,383.1 1412.5,385.0 1413.2,386.9 1413.9,388.8 1414.5,390.7 1415.2,392.6 1415.9,394.5 1416.5,396.4 1417.2,398.3 1417.8,400.3 1418.4,402.2 1419.1,404.1 1419.7,406.0 1420.3,407.9 1421.0,409.8 1421.6,411.8 1422.2,413.7 1422.8,415.6 1423.4,417.5 1424.0,419.4 1424.7,421.3 1425.3,423.3 1425.9,425.2 1426.5,427.1 1427.1,429.0 1427.6,430.9 1428.2,432.9 1428.8,434.8 1429.4,436.7 1430.0,438.6 1430.6,440.6 1431.1,442.5 1431.7,444.4 1432.3,446.3 1432.9,448.3 1433.4,450.2 1434.0,452.1 1434.5,454.0 1435.1,456.0 1435.6,457.9 1436.2,459.8 1436.7,461.7 1437.3,463.7 1437.8,465.6 1438.4,467.5 1438.9,469.5 1439.5,471.4 1440.0,473.3 1440.5,475.2 1441.0,477.2 1441.6,479.1 1442.1,481.0 1442.6,483.0 1443.1,484.9 1443.7,486.8 1444.2,488.8 1444.7,490.7 1445.2,492.6 1445.7,494.6 1446.2,496.5 1446.7,498.4 1447.2,500.4 1447.7,502.3 1448.2,504.2 1448.7,506.2 1449.2,508.1 1449.7,510.0 1450.2,512.0 1450.7,513.9 1451.1,515.8 1451.6,517.8 1452.1,519.7 1452.6,521.7 1453.1,523.6 1453.5,525.5 1454.0,527.5 1454.5,529.4 1455.0,531.3 1455.4,533.3 1455.9,535.2 1456.4,537.2 1456.8,539.1 1457.3,541.1 1457.8,543.0 1458.2,544.9 1458.7,546.9 1459.1,548.8 1459.6,550.8 1460.0,552.7 1460.5,554.6 1460.9,556.6 1461.4,558.5 1461.8,560.5 1462.3,562.4 1462.7,564.4 1463.2,566.3 1463.6,568.3 1464.0,570.2 1464.5,572.1 1464.9,574.1 1465.3,576.0 1465.8,578.0 1466.2,579.9 1466.6,581.9 1467.1,583.8 1467.5,585.8 1467.9,587.7 1468.4,589.7 1468.8,591.6 1469.2,593.6 1469.6,595.5 1470.1,597.5 1470.5,599.4 1470.9,601.4 1471.3,603.3 1471.7,605.3 1472.2,607.2 1472.6,609.2 1473.0,611.1 1473.4,613.1 1473.8,615.0 1474.2,617.0 1474.7,618.9 1475.1,620.9 1475.5,622.8 1475.9,624.8 1476.3,626.7 1476.7,628.7 1477.1,630.6 1477.5,632.6 1477.9,634.6 1478.3,636.5 1478.7,638.5 1479.2,640.4 1479.6,642.4 1480.0,644.3 1480.4,646.3 1480.8,648.2 1481.2,650.2 1481.6,652.2 1482.0,654.1 1482.4,656.1 1482.8,658.0 1483.2,660.0 1483.6,661.9 1484.0,663.9 1484.4,665.9 1484.8,667.8 1485.2,669.8 1485.6,671.7 1486.0,673.7 1486.4,675.7 1486.8,677.6 1487.2,679.6 1487.6,681.5 1488.0,683.5 1488.4,685.5 1488.8,687.4 1489.2,689.4 1489.6,691.3 1490.0,693.3 1490.4,695.3 1490.8,697.2 1491.2,699.2 1491.6,701.1 1492.0,703.1 1492.4,705.1 1492.8,707.0 1493.2,709.0 1493.6,711.0 1494.0,712.9 1494.4,714.9 1494.8,716.8 1495.2,718.8 1495.6,720.8 1496.0,722.7 1496.4,724.7 1496.8,726.7 1497.2,728.6 1497.6,730.6 1498.0,732.6 1498.4,734.5 1498.8,736.5 1499.2,738.5 1499.7,740.4 1500.1,742.4 1500.5,744.4 1500.9,746.3 1501.3,748.3 1501.7,750.2 1502.1,752.2 1502.5,754.2 1502.9,756.1 1503.4,758.1 1503.8,760.1 1504.2,762.0 1504.6,764.0 1505.0,766.0 1505.4,767.9 1505.9,769.9 1506.3,771.9 1506.7,773.8 1507.1,775.8 1507.5,777.8 1508.0,779.7 1508.4,781.7 1508.8,783.6 1509.3,785.6 1509.7,787.6 1510.1,789.5 1510.5,791.5 1511.0,793.5 1511.4,795.4 1511.9,797.4 1512.3,799.3 1512.7,801.3 1513.2,803.3 1513.6,805.2 1514.1,807.2 1514.5,809.1 1514.9,811.1 1515.4,813.1 1515.8,815.0 1516.3,817.0 1516.7,818.9 1517.2,820.9 1517.7,822.8 1518.1,824.8 1518.6,826.8 1519.0,828.7 1519.5,830.7 1520.0,832.6 1520.4,834.6 1520.9,836.5 1521.4,838.5 1521.8,840.4 1522.3,842.4 1522.8,844.3 1523.3,846.3 1523.8,848.2 1524.2,850.2 1524.7,852.1 1525.2,854.1 1525.7,856.0 1526.2,858.0 1526.7,859.9 1527.2,861.8 1527.7,863.8 1528.2,865.7 1528.7,867.7 1529.2,869.6 1529.7,871.6 1530.2,873.5 1530.7,875.4 1531.2,877.4 1531.7,879.3 1532.3,881.2 1532.8,883.2 1533.3,885.1 1533.8,887.0 1534.3,889.0 1534.9,890.9 1535.4,892.8 1535.9,894.8 1536.5,896.7 1537.0,898.6 1537.6,900.5 1538.1,902.5 1538.7,904.4 1539.2,906.3 1539.8,908.2 1540.3,910.2 1540.9,912.1 1541.5,914.0 1542.0,915.9 1542.6,917.8 1543.2,919.7 1543.7,921.7 1544.3,923.6 1544.9,925.5 1545.5,927.4 1546.1,929.3 1546.7,931.2 1547.3,933.1 1547.9,935.0 1548.5,936.9 1549.1,938.8 1549.7,940.7 1550.3,942.6 1550.9,944.5 1551.5,946.4 1552.1,948.3 1552.7,950.2 1553.4,952.1 1554.0,954.0 1554.6,955.9 1555.3,957.8 1555.9,959.7 1556.6,961.6 1557.2,963.5 1557.9,965.3 1558.5,967.2 1559.2,969.1 1559.8,971.0 1560.5,972.9 1561.2,974.7 1561.8,976.6 1562.5,978.5 1563.2,980.4 1563.9,982.2 1564.6,984.1 1565.2,986.0 1565.9,987.8 1566.6,989.7 1567.3,991.6 1568.1,993.4 1568.8,995.3 1569.5,997.1 1570.2,999.0 1570.9,1000.8 1571.6,1002.7 1572.4,1004.5 1573.1,1006.4 1573.9,1008.2 1574.6,1010.1 1575.3,1011.9 1576.1,1013.8 1576.8,1015.6 1577.6,1017.4 1578.4,1019.3 1579.1,1021.1 1579.9,1022.9 1580.7,1024.8 1581.5,1026.6 1582.3,1028.4 1583.1,1030.3 1583.8,1032.1 1584.6,1033.9 1585.5,1035.7 1586.3,1037.5 1587.1,1039.4 1587.9,1041.2 1588.7,1043.0 1589.5,1044.8 1590.4,1046.6 1591.2,1048.4 1592.1,1050.2 1592.9,1052.0 1593.7,1053.8 1594.6,1055.6 1595.5,1057.4 1596.3,1059.2 1597.2,1061.0 1598.1,1062.8 1599.0,1064.6 1599.8,1066.3 1600.7,1068.1 1601.6,1069.9 1602.5,1071.7 1603.4,1073.5 1604.3,1075.2 1605.3,1077.0 1606.2,1078.8 1607.1,1080.5 1608.0,1082.3 1609.0,1084.1 1609.9,1085.8 1610.9,1087.6 1611.8,1089.3 1612.8,1091.1 1613.7,1092.8 1614.7,1094.6 1615.7,1096.3 1616.6,1098.1 1617.6,1099.8 1618.6,1101.5 1619.6,1103.3 1620.6,1105.0 1621.6,1106.7 1622.6,1108.5 1623.6,1110.2 1624.7,1111.9 1625.7,1113.6 1626.7,1115.4 1627.8,1117.1 1628.8,1118.8 1629.9,1120.5 1630.9,1122.2 1632.0,1123.9 1633.0,1125.6 1634.1,1127.3 1635.2,1129.0 1636.3,1130.7 1637.4,1132.4 1638.5,1134.1 1639.6,1135.7 1640.7,1137.4 1641.9,1139.0 1643.0,1140.7 1644.2,1142.3 1645.4,1143.9 1646.6,1145.5 1647.8,1147.1 1649.0,1148.7 1650.2,1150.3 1651.4,1151.9 1652.7,1153.4 1654.0,1154.9 1655.3,1156.5 1656.6,1158.0 1657.9,1159.4 1659.2,1160.9 1660.6,1162.3 1662.0,1163.8 1663.4,1165.2 1664.8,1166.6 1666.2,1167.9 1667.7,1169.3 1669.2,1170.6 1670.7,1171.9 1672.2,1173.2 1673.7,1174.4 1675.3,1175.7 1676.9,1176.9 1678.5,1178.0 1680.1,1179.2 1681.8,1180.3 1683.5,1181.4 1685.2,1182.5 1686.9,1183.6 1688.6,1184.6 1690.4,1185.7 1692.1,1186.7 1693.9,1187.6 1695.7,1188.6 1697.5,1189.5 1699.3,1190.4 1701.1,1191.3 1703.0,1192.2 1704.8,1193.1 1706.7,1193.9 1708.5,1194.7 1710.4,1195.5 1712.3,1196.3 1714.2,1197.0 1716.1,1197.8 1718.0,1198.5 1719.9,1199.2 1721.8,1199.9 1723.7,1200.5 1725.7,1201.2 1727.6,1201.8 1729.5,1202.4 1731.4,1203.0 1733.3,1203.6 1735.3,1204.2 1737.2,1204.7 1739.1,1205.2 1741.1,1205.8 1743.0,1206.3 1745.0,1206.8 1746.9,1207.2 1748.8,1207.7 1750.8,1208.1 1752.7,1208.6 1754.7,1209.0 1756.6,1209.4 1758.6,1209.8 1760.5,1210.1 1762.5,1210.5 1764.4,1210.9 1766.4,1211.2 1768.4,1211.5 1770.3,1211.9 1772.3,1212.2 1774.2,1212.5 1776.2,1212.7 1778.2,1213.0 1780.1,1213.3 1782.1,1213.5 1784.1,1213.8 1786.1,1214.0 1788.0,1214.2 1790.0,1214.4 1792.0,1214.6 1794.0,1214.8 1795.9,1215.0 1797.9,1215.2 1799.9,1215.4 1801.9,1215.6 1803.9,1215.7 1805.8,1215.9 1807.8,1216.0 1809.8,1216.1 1811.8,1216.3 1813.8,1216.4 1815.8,1216.5 1817.8,1216.6 1819.8,1216.7 1821.7,1216.9 1823.7,1217.0 1825.7,1217.0 1827.7,1217.1 1829.7,1217.2 1831.7,1217.3 1833.7,1217.4 1835.7,1217.5 1837.7,1217.5 1839.7,1217.6 1841.7,1217.7 1843.7,1217.7 1845.7,1217.8 1847.7,1217.9 1849.7,1217.9 1851.7,1218.0 1853.7,1218.0 1855.7,1218.1 1857.7,1218.2 1859.7,1218.2 1861.7,1218.3 1863.7,1218.3 1865.7,1218.4 1867.7,1218.4 1869.7,1218.5 1871.7,1218.5 1873.7,1218.6 1875.7,1218.6 1877.7,1218.7 1879.7,1218.7 1881.7,1218.7 1883.7,1218.8 1885.8,1218.8 1887.8,1218.9 1889.8,1218.9 1891.8,1218.9 1893.8,1219.0 1895.8,1219.0 1897.8,1219.1 1899.8,1219.1 1901.8,1219.1 1903.8,1219.2 1905.8,1219.2 1907.8,1219.2 1909.8,1219.3 1911.8,1219.3 1913.8,1219.3 1915.9,1219.4 1917.9,1219.4 1919.9,1219.4 1921.9,1219.5 1923.9,1219.5 1925.9,1219.5 1927.9,1219.6 1929.9,1219.6 1931.9,1219.6 1933.9,1219.7 1935.9,1219.7 1937.9,1219.7 1940.0,1219.8 1942.0,1219.8 1944.0,1219.8 1946.0,1219.8 1948.0,1219.9 1950.0,1219.9 1952.0,1219.9 1954.0,1220.0 1956.0,1220.0 1958.0,1220.0 1960.0,1220.0 1962.0,1220.1 1964.0,1220.1 1966.0,1220.1 1968.1,1220.2 1970.1,1220.2 1972.1,1220.2 1974.1,1220.3 1976.1,1220.3 1978.1,1220.3 1980.1,1220.4 1982.1,1220.4 1984.1,1220.4 1986.1,1220.5 1988.1,1220.5 1990.1,1220.5 1992.1,1220.6 1994.1,1220.6 1996.1,1220.6 1998.1,1220.7 2000.1,1220.7 2002.1,1220.7 2004.1,1220.8 2006.1,1220.8 2008.1,1220.9 2010.1,1220.9 2012.1,1220.9 2014.1,1221.0 2016.1,1221.0 2018.1,1221.1 2020.1,1221.1 2022.1,1221.2 2024.1,1221.2 2026.1,1221.2 2028.1,1221.3 2030.1,1221.3 2032.1,1221.4 2034.1,1221.4 2036.1,1221.5 2038.1,1221.5 2040.1,1221.6 2042.1,1221.7 2044.0,1221.7 2046.0,1221.8 2048.0,1221.8 2050.0,1221.9 2052.0,1221.9 2054.0,1222.0" fill="none" stroke="#800000" stroke-width="10" stroke-linejoin="round" stroke-linecap="butt"/>
<path d="M285.0,831.5 286.7,832.6 288.4,833.8 290.2,834.9 291.9,836.0 293.7,837.1 295.5,838.1 297.2,839.1 299.0,840.1 300.8,841.0 302.6,842.0 304.4,842.9 306.2,843.8 308.1,844.6 309.9,845.5 311.7,846.3 313.6,847.0 315.4,847.8 317.3,848.5 319.2,849.2 321.0,849.9 322.9,850.6 324.8,851.2 326.7,851.8 328.6,852.4 330.5,853.0 332.4,853.5 334.3,854.0 336.3,854.5 338.2,855.0 340.1,855.5 342.0,855.9 344.0,856.3 345.9,856.7 347.9,857.1 349.8,857.4 351.8,857.7 353.7,858.0 355.7,858.3 357.7,858.6 359.6,858.8 361.6,859.0 363.6,859.2 365.6,859.4 367.6,859.5 369.5,859.7 371.5,859.8 373.5,859.9 375.5,860.0 377.5,860.0 379.5,860.1 381.5,860.1 383.5,860.1 385.5,860.1 387.5,860.0 389.5,860.0 391.5,859.9 393.5,859.8 395.5,859.7 397.5,859.6 399.5,859.5 401.5,859.3 403.5,859.1 405.5,858.9 407.5,858.7 409.5,858.5 411.4,858.2 413.4,858.0 415.4,857.7 417.4,857.4 419.4,857.1 421.4,856.8 423.4,856.4 425.4,856.1 427.4,855.7 429.3,855.3 431.3,854.9 433.3,854.5 435.2,854.1 437.2,853.6 439.2,853.2 441.1,852.7 443.1,852.2 445.0,851.7 447.0,851.2 448.9,850.7 450.9,850.2 452.8,849.6 454.7,849.0 456.7,848.5 458.6,847.9 460.5,847.3 462.4,846.6 464.3,846.0 466.2,845.4 468.1,844.7 470.0,844.0 471.9,843.3 473.8,842.6 475.7,841.9 477.6,841.2 479.4,840.5 481.3,839.7 483.1,838.9 485.0,838.2 486.8,837.4 488.7,836.6 490.5,835.8 492.3,834.9 494.2,834.1 496.0,833.2 497.8,832.4 499.6,831.5 501.4,830.6 503.1,829.7 504.9,828.8 506.7,827.8 508.5,826.9 510.2,826.0 512.0,825.0 513.7,824.0 515.5,823.0 517.2,822.0 518.9,821.0 520.6,820.0 522.3,818.9 524.0,817.9 525.7,816.8 527.4,815.8 529.1,814.7 530.7,813.6 532.4,812.5 534.0,811.4 535.7,810.2 537.3,809.1 538.9,808.0 540.6,806.8 542.2,805.6 543.8,804.5 545.4,803.3 547.0,802.1 548.6,800.9 550.2,799.7 551.8,798.5 553.3,797.2 554.9,796.0 556.5,794.7 558.0,793.5 559.6,792.2 561.1,791.0 562.7,789.7 564.2,788.4 565.7,787.1 567.2,785.9 568.8,784.6 570.3,783.3 571.8,781.9 573.3,780.6 574.8,779.3 576.3,778.0 577.8,776.7 579.3,775.3 580.8,774.0 582.3,772.7 583.8,771.3 585.3,770.0 586.8,768.6 588.2,767.3 589.7,765.9 591.2,764.5 592.7,763.2 594.1,761.8 595.6,760.4 597.1,759.1 598.5,757.7 600.0,756.3 601.4,754.9 602.9,753.5 604.3,752.1 605.8,750.7 607.2,749.3 608.6,747.9 610.1,746.5 611.5,745.1 612.9,743.7 614.4,742.3 615.8,740.9 617.2,739.5 618.6,738.0 620.0,736.6 621.4,735.2 622.8,733.7 624.2,732.3 625.6,730.8 627.0,729.4 628.4,727.9 629.8,726.5 631.1,725.0 632.5,723.6 633.9,722.1 635.3,720.6 636.6,719.2 638.0,717.7 639.3,716.2 640.7,714.7 642.0,713.2 643.4,711.7 644.7,710.2 646.0,708.7 647.4,707.2 648.7,705.7 650.0,704.2 651.3,702.7 652.6,701.2 653.9,699.7 655.2,698.1 656.5,696.6 657.8,695.1 659.1,693.6 660.4,692.0 661.7,690.5 662.9,688.9 664.2,687.4 665.5,685.8 666.7,684.3 668.0,682.7 669.2,681.1 670.5,679.6 671.7,678.0 672.9,676.4 674.2,674.8 675.4,673.3 676.6,671.7 677.8,670.1 679.0,668.5 680.2,666.9 681.4,665.3 682.6,663.7 683.8,662.1 685.0,660.5 686.1,658.9 687.3,657.2 688.5,655.6 689.6,654.0 690.8,652.3 691.9,650.7 693.1,649.1 694.2,647.4 695.3,645.8 696.5,644.1 697.6,642.5 698.7,640.8 699.8,639.2 700.9,637.5 702.0,635.8 703.1,634.2 704.2,632.5 705.2,630.8 706.3,629.1 707.4,627.4 708.5,625.8 709.5,624.1 710.6,622.4 711.6,620.7 712.7,619.0 713.7,617.3 714.8,615.6 715.8,613.9 716.8,612.2 717.8,610.4 718.9,608.7 719.9,607.0 720.9,605.3 721.9,603.6 722.9,601.8 723.9,600.1 724.9,598.4 725.9,596.7 726.9,594.9 727.9,593.2 728.9,591.4 729.9,589.7 730.8,588.0 731.8,586.2 732.8,584.5 733.8,582.7 734.7,581.0 735.7,579.2 736.7,577.5 737.6,575.7 738.6,573.9 739.5,572.2 740.5,570.4 741.4,568.7 742.4,566.9 743.3,565.1 744.3,563.4 745.2,561.6 746.1,559.8 747.1,558.1 748.0,556.3 748.9,554.5 749.9,552.7 750.8,551.0 751.7,549.2 752.7,547.4 753.6,545.6 754.5,543.8 755.4,542.1 756.4,540.3 757.3,538.5 758.2,536.7 759.1,534.9 760.0,533.2 760.9,531.4 761.9,529.6 762.8,527.8 763.7,526.0 764.6,524.2 765.5,522.4 766.4,520.7 767.3,518.9 768.3,517.1 769.2,515.3 770.1,513.5 771.0,511.7 771.9,509.9 772.8,508.2 773.7,506.4 774.6,504.6 775.6,502.8 776.5,501.0 777.4,499.2 778.3,497.5 779.2,495.7 780.1,493.9 781.1,492.1 782.0,490.3 782.9,488.5 783.8,486.8 784.7,485.0 785.6,483.2 786.6,481.4 787.5,479.6 788.4,477.9 789.3,476.1 790.3,474.3 791.2,472.5 792.1,470.7 793.0,469.0 793.9,467.2 794.9,465.4 795.8,463.6 796.7,461.9 797.6,460.1 798.6,458.3 799.5,456.5 800.4,454.7 801.3,453.0 802.3,451.2 803.2,449.4 804.1,447.6 805.0,445.9 806.0,444.1 806.9,442.3 807.8,440.5 808.7,438.8 809.6,437.0 810.6,435.2 811.5,433.4 812.4,431.6 813.3,429.9 814.2,428.1 815.2,426.3 816.1,424.5 817.0,422.8 817.9,421.0 818.8,419.2 819.7,417.4 820.6,415.6 821.6,413.9 822.5,412.1 823.4,410.3 824.3,408.5 825.2,406.7 826.1,404.9 827.0,403.2 827.9,401.4 828.8,399.6 829.7,397.8 830.6,396.0 831.5,394.2 832.4,392.4 833.3,390.7 834.2,388.9 835.1,387.1 836.0,385.3 836.9,383.5 837.8,381.7 838.6,379.9 839.5,378.1 840.4,376.3 841.3,374.5 842.2,372.7 843.1,370.9 843.9,369.1 844.8,367.3 845.7,365.5 846.5,363.7 847.4,361.9 848.3,360.1 849.1,358.3 850.0,356.5 850.9,354.7 851.7,352.9 852.6,351.1 853.4,349.3 854.3,347.5 855.1,345.7 856.0,343.9 856.8,342.1 857.7,340.2 858.5,338.4 859.3,336.6 860.2,334.8 861.0,333.0 861.9,331.2 862.7,329.3 863.5,327.5 864.4,325.7 865.2,323.9 866.0,322.1 866.9,320.3 867.7,318.4 868.6,316.6 869.4,314.8 870.2,313.0 871.1,311.2 871.9,309.4 872.8,307.5 873.6,305.7 874.5,303.9 875.3,302.1 876.2,300.3 877.0,298.5 877.9,296.7 878.7,294.9 879.6,293.0 880.5,291.2 881.3,289.4 882.2,287.6 883.1,285.8 883.9,284.0 884.8,282.2 885.7,280.4 886.6,278.6 887.5,276.8 888.3,275.0 889.2,273.2 890.1,271.4 891.0,269.6 891.9,267.8 892.9,266.1 893.8,264.3 894.7,262.5 895.7,260.8 896.7,259.0 897.7,257.3 898.7,255.6 899.7,253.9 900.8,252.2 901.8,250.5 903.0,248.9 904.1,247.3 905.3,245.7 906.5,244.1 907.7,242.6 909.0,241.1 910.3,239.7 911.7,238.2 913.1,236.8 914.5,235.4 915.9,234.1 917.4,232.7 918.9,231.4 920.5,230.1 922.0,228.8 923.6,227.6 925.2,226.3 926.8,225.1 928.4,223.9 930.1,222.7 931.7,221.6 933.4,220.4 935.0,219.2 936.7,218.1 938.4,216.9 940.1,215.8 941.7,214.7 943.4,213.5 945.1,212.4 946.8,211.3 948.4,210.1 950.1,209.0 951.7,207.9 953.4,206.8 955.0,205.6 956.6,204.5 958.2,203.3 959.9,202.2 961.5,201.1 963.1,199.9 964.7,198.8 966.3,197.7 968.0,196.5 969.6,195.4 971.2,194.3 972.9,193.2 974.6,192.0 976.2,190.9 977.9,189.8 979.7,188.7 981.4,187.6 983.1,186.5 984.8,185.4 986.5,184.3 988.1,183.2 989.8,182.1 991.4,180.9 992.9,179.7 994.4,178.5 995.8,177.2 997.2,175.9 998.4,174.6 999.6,173.2 1000.8,171.8 1001.9,170.4 1002.9,168.9 1004.1,167.5 1005.2,166.0 1006.5,164.5 1007.8,163.1 1009.3,161.6 1010.9,160.2 1012.6,158.8 1014.4,157.5 1016.3,156.3 1018.3,155.0 1020.3,153.9 1022.4,152.8 1024.5,151.8 1026.7,151.0 1028.8,150.2 1031.0,149.5 1033.1,148.9 1035.2,148.5 1037.2,148.2 1039.1,148.1 1041.0,148.1 1042.8,148.2 1044.6,148.4 1046.3,148.8 1047.9,149.3 1049.5,150.0 1051.0,150.7 1052.5,151.5 1053.9,152.5 1055.3,153.5 1056.6,154.6 1057.9,155.9 1059.1,157.2 1060.3,158.5 1061.4,160.0 1062.6,161.5 1063.6,163.1 1064.7,164.7 1065.7,166.4 1066.7,168.2 1067.7,169.9 1068.6,171.7 1069.6,173.6 1070.5,175.5 1071.4,177.4 1072.3,179.3 1073.1,181.2 1074.0,183.1 1074.9,185.0 1075.7,187.0 1076.6,188.9 1077.4,190.8 1078.3,192.7 1079.1,194.6 1080.0,196.5 1080.8,198.4 1081.6,200.3 1082.5,202.2 1083.3,204.1 1084.1,206.0 1084.9,207.8 1085.7,209.7 1086.6,211.6 1087.4,213.4 1088.2,215.3 1089.0,217.2 1089.8,219.0 1090.5,220.9 1091.3,222.7 1092.1,224.6 1092.9,226.4 1093.6,228.3 1094.4,230.1 1095.2,232.0 1095.9,233.8 1096.7,235.6 1097.4,237.5 1098.1,239.3 1098.9,241.2 1099.6,243.0 1100.3,244.9 1101.0,246.7 1101.7,248.6 1102.4,250.4 1103.1,252.3 1103.8,254.1 1104.5,256.0 1105.2,257.9 1105.8,259.7 1106.5,261.6 1107.1,263.5 1107.8,265.3 1108.4,267.2 1109.0,269.1 1109.7,271.0 1110.3,272.8 1110.9,274.7 1111.5,276.6 1112.1,278.5 1112.7,280.4 1113.2,282.3 1113.8,284.3 1114.4,286.2 1114.9,288.1 1115.5,290.0 1116.1,291.9 1116.6,293.9 1117.1,295.8 1117.7,297.7 1118.2,299.6 1118.8,301.6 1119.3,303.5 1119.8,305.4 1120.3,307.4 1120.9,309.3 1121.4,311.3 1121.9,313.2 1122.4,315.2 1122.9,317.1 1123.5,319.0 1124.0,321.0 1124.5,322.9 1125.0,324.9 1125.5,326.8 1126.1,328.8 1126.6,330.7 1127.1,332.7 1127.6,334.6 1128.2,336.6 1128.7,338.5 1129.2,340.5 1129.7,342.4 1130.3,344.3 1130.8,346.3 1131.4,348.2 1131.9,350.2 1132.5,352.1 1133.0,354.0 1133.6,355.9 1134.2,357.9 1134.7,359.8 1135.3,361.7 1135.9,363.6 1136.5,365.6 1137.1,367.5 1137.7,369.4 1138.3,371.3 1138.9,373.2 1139.6,375.1 1140.2,377.0 1140.9,378.9 1141.5,380.8 1142.2,382.7 1142.8,384.6 1143.5,386.4 1144.2,388.3 1144.9,390.2 1145.6,392.0 1146.4,393.9 1147.1,395.7 1147.9,397.6 1148.6,399.4 1149.4,401.3 1150.2,403.1 1151.0,404.9 1151.8,406.7 1152.6,408.5 1153.5,410.4 1154.3,412.2 1155.2,413.9 1156.0,415.7 1156.9,417.5 1157.8,419.3 1158.8,421.1 1159.7,422.8 1160.6,424.6 1161.6,426.3 1162.5,428.1 1163.5,429.8 1164.5,431.6 1165.5,433.3 1166.5,435.0 1167.5,436.8 1168.5,438.5 1169.5,440.2 1170.5,441.9 1171.5,443.6 1172.6,445.4 1173.6,447.1 1174.6,448.8 1175.7,450.5 1176.7,452.2 1177.8,453.9 1178.9,455.6 1179.9,457.3 1181.0,459.0 1182.0,460.7 1183.1,462.4 1184.2,464.1 1185.2,465.8 1186.3,467.5 1187.4,469.2 1188.4,470.9 1189.5,472.6 1190.6,474.3 1191.6,476.0 1192.7,477.7 1193.7,479.4 1194.8,481.2 1195.8,482.9 1196.9,484.6 1197.9,486.3 1198.9,488.0 1200.0,489.7 1201.0,491.5 1202.0,493.2 1203.0,494.9 1204.0,496.7 1205.0,498.4 1206.0,500.2 1206.9,501.9 1207.9,503.7 1208.9,505.4 1209.8,507.2 1210.7,509.0 1211.7,510.7 1212.6,512.5 1213.5,514.3 1214.4,516.1 1215.3,517.8 1216.2,519.6 1217.1,521.4 1218.0,523.2 1218.9,525.0 1219.7,526.8 1220.6,528.6 1221.4,530.4 1222.3,532.3 1223.1,534.1 1223.9,535.9 1224.7,537.7 1225.5,539.6 1226.3,541.4 1227.1,543.2 1227.9,545.1 1228.7,546.9 1229.4,548.8 1230.2,550.6 1230.9,552.5 1231.6,554.3 1232.4,556.2 1233.1,558.0 1233.8,559.9 1234.5,561.8 1235.2,563.6 1235.9,565.5 1236.6,567.4 1237.2,569.3 1237.9,571.2 1238.6,573.0 1239.2,574.9 1239.8,576.8 1240.5,578.7 1241.1,580.6 1241.7,582.5 1242.3,584.4 1242.9,586.3 1243.5,588.2 1244.1,590.1 1244.7,592.1 1245.3,594.0 1245.9,595.9 1246.5,597.8 1247.0,599.7 1247.6,601.7 1248.1,603.6 1248.7,605.5 1249.2,607.4 1249.8,609.4 1250.3,611.3 1250.8,613.2 1251.4,615.2 1251.9,617.1 1252.4,619.0 1252.9,621.0 1253.4,622.9 1253.9,624.9 1254.4,626.8 1254.9,628.8 1255.4,630.7 1255.9,632.7 1256.4,634.6 1256.9,636.6 1257.3,638.5 1257.8,640.5 1258.3,642.4 1258.8,644.4 1259.2,646.3 1259.7,648.3 1260.1,650.2 1260.6,652.2 1261.1,654.2 1261.5,656.1 1262.0,658.1 1262.4,660.0 1262.9,662.0 1263.3,663.9 1263.8,665.9 1264.2,667.9 1264.6,669.8 1265.1,671.8 1265.5,673.7 1266.0,675.7 1266.4,677.7 1266.8,679.6 1267.3,681.6 1267.7,683.5 1268.2,685.5 1268.6,687.5 1269.0,689.4 1269.5,691.4 1269.9,693.3 1270.3,695.3 1270.8,697.2 1271.2,699.2 1271.7,701.1 1272.1,703.1 1272.5,705.1 1273.0,707.0 1273.4,709.0 1273.9,710.9 1274.3,712.9 1274.7,714.8 1275.2,716.8 1275.6,718.7 1276.0,720.7 1276.5,722.6 1276.9,724.6 1277.4,726.5 1277.8,728.5 1278.2,730.4 1278.7,732.4 1279.1,734.3 1279.5,736.3 1280.0,738.2 1280.4,740.2 1280.9,742.1 1281.3,744.1 1281.7,746.0 1282.2,748.0 1282.6,749.9 1283.0,751.9 1283.5,753.8 1283.9,755.7 1284.4,757.7 1284.8,759.6 1285.2,761.6 1285.7,763.5 1286.1,765.5 1286.5,767.4 1287.0,769.4 1287.4,771.3 1287.8,773.3 1288.3,775.2 1288.7,777.2 1289.1,779.1 1289.5,781.1 1290.0,783.0 1290.4,785.0 1290.8,786.9 1291.3,788.9 1291.7,790.8 1292.1,792.8 1292.5,794.7 1293.0,796.7 1293.4,798.6 1293.8,800.6 1294.3,802.5 1294.7,804.5 1295.1,806.4 1295.5,808.4 1295.9,810.3 1296.4,812.3 1296.8,814.2 1297.2,816.2 1297.6,818.1 1298.0,820.1 1298.5,822.0 1298.9,824.0 1299.3,826.0 1299.7,827.9 1300.1,829.9 1300.5,831.8 1301.0,833.8 1301.4,835.7 1301.8,837.7 1302.2,839.7 1302.6,841.6 1303.0,843.6 1303.4,845.5 1303.8,847.5 1304.2,849.5 1304.6,851.4 1305.0,853.4 1305.4,855.4 1305.8,857.3 1306.2,859.3 1306.6,861.3 1307.0,863.2 1307.4,865.2 1307.8,867.2 1308.2,869.1 1308.6,871.1 1309.0,873.1 1309.4,875.0 1309.8,877.0 1310.2,879.0 1310.6,881.0 1311.0,882.9 1311.4,884.9 1311.8,886.9 1312.2,888.9 1312.6,890.8 1313.0,892.8 1313.4,894.8 1313.8,896.7 1314.2,898.7 1314.6,900.7 1315.0,902.7 1315.4,904.6 1315.8,906.6 1316.2,908.6 1316.6,910.6 1317.0,912.5 1317.4,914.5 1317.8,916.5 1318.2,918.4 1318.7,920.4 1319.1,922.4 1319.5,924.3 1319.9,926.3 1320.4,928.3 1320.8,930.2 1321.2,932.2 1321.7,934.2 1322.1,936.1 1322.5,938.1 1323.0,940.1 1323.4,942.0 1323.9,944.0 1324.3,945.9 1324.8,947.9 1325.2,949.9 1325.7,951.8 1326.2,953.8 1326.7,955.7 1327.1,957.7 1327.6,959.6 1328.1,961.6 1328.6,963.5 1329.1,965.4 1329.6,967.4 1330.1,969.3 1330.6,971.3 1331.1,973.2 1331.6,975.1 1332.1,977.1 1332.7,979.0 1333.2,980.9 1333.7,982.9 1334.3,984.8 1334.8,986.7 1335.4,988.6 1336.0,990.6 1336.5,992.5 1337.1,994.4 1337.7,996.3 1338.3,998.2 1338.8,1000.1 1339.4,1002.0 1340.1,1003.9 1340.7,1005.8 1341.3,1007.7 1341.9,1009.6 1342.5,1011.5 1343.2,1013.4 1343.8,1015.3 1344.5,1017.2 1345.1,1019.1 1345.8,1020.9 1346.5,1022.8 1347.2,1024.7 1347.8,1026.6 1348.5,1028.4 1349.3,1030.3 1350.0,1032.2 1350.7,1034.0 1351.4,1035.9 1352.2,1037.7 1352.9,1039.6 1353.7,1041.4 1354.4,1043.3 1355.2,1045.1 1356.0,1046.9 1356.8,1048.8 1357.6,1050.6 1358.4,1052.4 1359.2,1054.2 1360.0,1056.1 1360.9,1057.9 1361.7,1059.7 1362.6,1061.5 1363.4,1063.3 1364.3,1065.1 1365.2,1066.9 1366.1,1068.7 1367.0,1070.5 1367.9,1072.2 1368.9,1074.0 1369.8,1075.8 1370.7,1077.6 1371.7,1079.3 1372.7,1081.1 1373.7,1082.8 1374.7,1084.6 1375.7,1086.3 1376.7,1088.0 1377.7,1089.7 1378.8,1091.4 1379.8,1093.1 1380.9,1094.8 1382.0,1096.5 1383.1,1098.2 1384.2,1099.8 1385.3,1101.5 1386.4,1103.1 1387.6,1104.7 1388.7,1106.4 1389.9,1108.0 1391.1,1109.6 1392.3,1111.1 1393.5,1112.7 1394.8,1114.3 1396.0,1115.8 1397.3,1117.3 1398.6,1118.9 1399.9,1120.4 1401.2,1121.8 1402.5,1123.3 1403.8,1124.8 1405.2,1126.2 1406.6,1127.6 1408.0,1129.0 1409.4,1130.4 1410.8,1131.8 1412.2,1133.2 1413.7,1134.5 1415.2,1135.8 1416.6,1137.1 1418.2,1138.4 1419.7,1139.7 1421.2,1140.9 1422.8,1142.2 1424.4,1143.4 1426.0,1144.5 1427.6,1145.7 1429.2,1146.9 1430.9,1148.0 1432.5,1149.1 1434.2,1150.2 1435.9,1151.3 1437.7,1152.3 1439.4,1153.4 1441.1,1154.4 1442.9,1155.4 1444.7,1156.4 1446.4,1157.3 1448.2,1158.3 1450.0,1159.2 1451.9,1160.1 1453.7,1161.0 1455.5,1161.9 1457.4,1162.8 1459.2,1163.7 1461.1,1164.5 1462.9,1165.4 1464.8,1166.2 1466.7,1167.0 1468.6,1167.8 1470.4,1168.6 1472.3,1169.4 1474.2,1170.1 1476.1,1170.9 1478.0,1171.6 1479.9,1172.4 1481.8,1173.1 1483.7,1173.8 1485.6,1174.5 1487.5,1175.2 1489.4,1175.9 1491.3,1176.6 1493.3,1177.2 1495.2,1177.9 1497.1,1178.6 1499.0,1179.2 1500.9,1179.8 1502.8,1180.5 1504.7,1181.1 1506.6,1181.7 1508.6,1182.3 1510.5,1182.9 1512.4,1183.5 1514.3,1184.0 1516.2,1184.6 1518.2,1185.2 1520.1,1185.7 1522.0,1186.3 1523.9,1186.8 1525.9,1187.3 1527.8,1187.8 1529.7,1188.3 1531.6,1188.8 1533.6,1189.3 1535.5,1189.8 1537.4,1190.3 1539.4,1190.8 1541.3,1191.2 1543.2,1191.7 1545.2,1192.1 1547.1,1192.5 1549.1,1193.0 1551.0,1193.4 1552.9,1193.8 1554.9,1194.2 1556.8,1194.6 1558.8,1195.0 1560.7,1195.4 1562.7,1195.8 1564.6,1196.1 1566.6,1196.5 1568.5,1196.8 1570.5,1197.2 1572.4,1197.5 1574.4,1197.9 1576.4,1198.2 1578.3,1198.5 1580.3,1198.8 1582.2,1199.1 1584.2,1199.4 1586.2,1199.7 1588.1,1200.0 1590.1,1200.3 1592.1,1200.5 1594.0,1200.8 1596.0,1201.1 1598.0,1201.3 1599.9,1201.6 1601.9,1201.8 1603.9,1202.0 1605.9,1202.3 1607.8,1202.5 1609.8,1202.7 1611.8,1202.9 1613.8,1203.1 1615.7,1203.3 1617.7,1203.5 1619.7,1203.7 1621.7,1203.8 1623.7,1204.0 1625.7,1204.2 1627.7,1204.3 1629.7,1204.5 1631.6,1204.6 1633.6,1204.8 1635.6,1204.9 1637.6,1205.1 1639.6,1205.2 1641.6,1205.3 1643.6,1205.4 1645.6,1205.5 1647.6,1205.6 1649.6,1205.7 1651.6,1205.8 1653.6,1205.9 1655.7,1206.0 1657.7,1206.1 1659.7,1206.2 1661.7,1206.2 1663.7,1206.3 1665.7,1206.3 1667.7,1206.4 1669.7,1206.5 1671.8,1206.5 1673.8,1206.5 1675.8,1206.6 1677.8,1206.6 1679.8,1206.6 1681.9,1206.7 1683.9,1206.7 1685.9,1206.7 1688.0,1206.7 1690.0,1206.7 1692.0,1206.7 1694.1,1206.7 1696.1,1206.7 1698.1,1206.7 1700.2,1206.7 1702.0,1205.8 1704.0,1206.2 1706.0,1206.6 1708.0,1206.9 1710.0,1207.2 1712.0,1207.4 1714.0,1207.5 1716.0,1207.6 1718.0,1207.7 1720.0,1207.8 1722.0,1207.9 1724.0,1208.0 1726.0,1208.1 1728.0,1208.2 1730.0,1208.2 1732.0,1208.3 1734.0,1208.4 1736.0,1208.5 1738.0,1208.6 1740.0,1208.7 1742.0,1208.7 1744.0,1208.8 1746.0,1208.9 1748.0,1209.0 1750.0,1209.1 1752.0,1209.2 1754.0,1209.2 1756.0,1209.3 1758.0,1209.4 1760.0,1209.5 1762.0,1209.6 1764.0,1209.7 1766.0,1209.8 1768.0,1209.9 1770.0,1210.0 1772.0,1210.0 1774.0,1210.1 1776.0,1210.2 1778.0,1210.2 1780.0,1210.2 1782.0,1210.1 1784.0,1209.9 1786.0,1209.6 1788.0,1209.1 1790.0,1208.5 1792.0,1207.7 1794.0,1207.0 1796.0,1206.3 1798.0,1205.9 1800.0,1205.8 1802.0,1206.1 1804.0,1206.7 1806.0,1207.5 1808.0,1208.5 1810.0,1209.4 1812.0,1210.2 1814.0,1210.9 1816.0,1211.4 1818.0,1211.8 1820.0,1212.0 1822.0,1212.2 1824.0,1212.4 1826.0,1212.5 1828.0,1212.6 1830.0,1212.6 1832.0,1212.6 1834.0,1212.5 1836.0,1212.3 1838.0,1211.9 1840.0,1211.3 1842.0,1210.6 1844.0,1209.8 1846.0,1209.0 1848.0,1208.3 1850.0,1207.8 1852.0,1207.7 1854.0,1208.0 1856.0,1208.6 1858.0,1209.5 1860.0,1210.5 1862.0,1211.5 1864.0,1212.4 1866.0,1213.2 1868.0,1213.7 1870.0,1214.1 1872.0,1214.4 1874.0,1214.6 1876.0,1214.8 1878.0,1214.9 1880.0,1215.0 1882.0,1215.0 1884.0,1215.0 1886.0,1215.0 1888.0,1214.9 1890.0,1214.7 1892.0,1214.3 1894.0,1213.7 1896.0,1213.0 1898.0,1212.1 1900.0,1211.2 1902.0,1210.3 1904.0,1209.6 1906.0,1209.2 1908.0,1209.3 1910.0,1209.7 1912.0,1210.5 1914.0,1211.5 1916.0,1212.6 1918.0,1213.6 1920.0,1214.4 1922.0,1215.0 1924.0,1215.5 1926.0,1215.8 1928.0,1216.0 1930.0,1216.2 1932.0,1216.3 1934.0,1216.3 1936.0,1216.4 1938.0,1216.4 1940.0,1216.5 1942.0,1216.5 1944.0,1216.4 1946.0,1216.3 1948.0,1216.1 1950.0,1215.7 1952.0,1215.2 1954.0,1214.5 1956.0,1213.6 1958.0,1212.6 1960.0,1211.7 1962.0,1211.0 1964.0,1210.7 1966.0,1210.7 1968.0,1211.2 1970.0,1212.0 1972.0,1213.0 1974.0,1214.0 1976.0,1215.0 1978.0,1215.8 1980.0,1216.5 1982.0,1217.0 1984.0,1217.3 1986.0,1217.5 1988.0,1217.6 1990.0,1217.7 1992.0,1217.8 1994.0,1217.8 1996.0,1217.9 1998.0,1217.9 2000.0,1217.9 2002.0,1217.9 2004.0,1217.8 2006.0,1217.6 2008.0,1217.3 2010.0,1216.8 2012.0,1216.1 2014.0,1215.2 2016.0,1214.2 2018.0,1213.1 2020.0,1212.2 2022.0,1211.6 2024.0,1211.4 2026.0,1211.7 2028.0,1212.4 2030.0,1213.4 2032.0,1214.5 2034.0,1215.6 2036.0,1216.5 2038.0,1217.3 2040.0,1217.9 2042.0,1218.3 2044.0,1218.6 2046.0,1218.7 2048.0,1218.8 2050.0,1218.9 2052.0,1219.0 2054.0,1219.0" fill="none" stroke="#0000d6" stroke-width="10" stroke-linejoin="round" stroke-linecap="butt"/>
<path d="M285.0,929.8 286.8,930.3 288.6,930.8 290.4,931.4 292.2,932.1 294.0,932.8 295.8,933.6 297.6,934.5 299.4,935.3 301.2,936.2 302.9,937.2 304.7,938.2 306.5,939.2 308.3,940.2 310.0,941.3 311.8,942.4 313.6,943.4 315.4,944.5 317.1,945.7 318.9,946.8 320.7,947.9 322.4,949.0 324.2,950.1 326.0,951.2 327.7,952.3 329.5,953.4 331.3,954.4 333.1,955.4 334.8,956.4 336.6,957.4 338.4,958.3 340.2,959.2 342.0,960.1 343.8,960.9 345.6,961.6 347.4,962.3 349.2,963.0 351.0,963.5 352.8,964.1 354.6,964.5 356.4,964.9 358.2,965.2 360.1,965.4 361.9,965.6 363.7,965.7 365.6,965.6 367.4,965.5 369.3,965.3 371.2,965.0 373.0,964.6 374.9,964.1 376.8,963.6 378.6,963.1 380.5,962.6 382.3,962.3 384.1,962.0 385.8,962.0 387.5,962.2 389.2,962.6 390.8,963.2 392.4,964.0 394.0,964.9 395.6,965.8 397.2,966.8 398.9,967.8 400.5,968.8 402.2,969.9 403.9,970.9 405.6,972.0 407.3,973.0 409.1,974.0 410.8,975.0 412.6,976.0 414.4,976.9 416.2,977.8 418.0,978.7 419.8,979.5 421.6,980.2 423.5,980.9 425.4,981.5 427.2,982.1 429.1,982.6 431.0,983.0 432.9,983.3 434.9,983.6 436.8,983.8 438.7,983.9 440.7,984.0 442.6,984.1 444.6,984.0 446.6,983.9 448.5,983.8 450.5,983.6 452.5,983.4 454.5,983.1 456.5,982.8 458.4,982.4 460.4,982.0 462.4,981.6 464.4,981.1 466.4,980.5 468.4,980.0 470.4,979.4 472.4,978.8 474.4,978.1 476.3,977.5 478.3,976.8 480.3,976.0 482.3,975.3 484.2,974.6 486.2,973.8 488.1,973.0 490.0,972.2 492.0,971.4 493.9,970.6 495.8,969.7 497.7,968.9 499.6,968.1 501.5,967.2 503.3,966.4 505.2,965.5 507.0,964.7 508.9,963.8 510.7,962.9 512.5,962.1 514.3,961.2 516.1,960.3 517.9,959.4 519.7,958.6 521.5,957.7 523.3,956.8 525.1,955.9 526.8,955.0 528.6,954.1 530.3,953.1 532.1,952.2 533.8,951.3 535.5,950.4 537.2,949.4 539.0,948.5 540.7,947.5 542.4,946.6 544.1,945.6 545.8,944.7 547.5,943.7 549.2,942.7 550.9,941.8 552.6,940.8 554.3,939.8 555.9,938.8 557.6,937.8 559.3,936.8 561.0,935.8 562.7,934.8 564.3,933.8 566.0,932.7 567.7,931.7 569.4,930.7 571.0,929.6 572.7,928.6 574.4,927.5 576.1,926.5 577.7,925.4 579.4,924.4 581.1,923.3 582.8,922.2 584.5,921.1 586.1,920.0 587.8,918.9 589.5,917.8 591.2,916.7 592.9,915.6 594.5,914.5 596.2,913.4 597.9,912.2 599.6,911.1 601.2,909.9 602.9,908.8 604.6,907.6 606.2,906.5 607.9,905.3 609.6,904.1 611.2,902.9 612.9,901.7 614.5,900.5 616.1,899.3 617.8,898.1 619.4,896.9 621.0,895.6 622.6,894.4 624.2,893.1 625.8,891.9 627.4,890.6 629.0,889.3 630.5,888.0 632.1,886.7 633.7,885.4 635.2,884.1 636.7,882.8 638.3,881.4 639.8,880.1 641.3,878.7 642.8,877.4 644.2,876.0 645.7,874.6 647.1,873.2 648.6,871.8 650.0,870.4 651.4,869.0 652.8,867.5 654.2,866.1 655.6,864.6 656.9,863.1 658.3,861.7 659.6,860.2 660.9,858.7 662.2,857.2 663.5,855.6 664.8,854.1 666.0,852.6 667.3,851.0 668.5,849.5 669.7,847.9 670.9,846.3 672.1,844.7 673.3,843.1 674.5,841.5 675.7,839.9 676.8,838.3 678.0,836.7 679.1,835.1 680.2,833.4 681.4,831.8 682.5,830.1 683.6,828.5 684.7,826.8 685.8,825.2 686.8,823.5 687.9,821.8 689.0,820.1 690.0,818.4 691.1,816.7 692.1,815.1 693.1,813.4 694.2,811.6 695.2,809.9 696.2,808.2 697.2,806.5 698.2,804.8 699.3,803.1 700.3,801.3 701.3,799.6 702.2,797.9 703.2,796.2 704.2,794.4 705.2,792.7 706.2,791.0 707.2,789.2 708.1,787.5 709.1,785.7 710.1,784.0 711.0,782.2 712.0,780.5 713.0,778.7 713.9,777.0 714.9,775.2 715.8,773.4 716.7,771.7 717.7,769.9 718.6,768.2 719.6,766.4 720.5,764.6 721.4,762.8 722.3,761.1 723.3,759.3 724.2,757.5 725.1,755.7 726.0,754.0 726.9,752.2 727.8,750.4 728.7,748.6 729.6,746.8 730.5,745.0 731.4,743.2 732.3,741.4 733.2,739.6 734.1,737.9 735.0,736.1 735.9,734.3 736.8,732.5 737.6,730.7 738.5,728.9 739.4,727.1 740.3,725.2 741.1,723.4 742.0,721.6 742.9,719.8 743.7,718.0 744.6,716.2 745.5,714.4 746.3,712.6 747.2,710.8 748.0,709.0 748.9,707.1 749.8,705.3 750.6,703.5 751.5,701.7 752.3,699.9 753.1,698.0 754.0,696.2 754.8,694.4 755.7,692.6 756.5,690.7 757.3,688.9 758.2,687.1 759.0,685.3 759.9,683.4 760.7,681.6 761.5,679.8 762.4,678.0 763.2,676.1 764.0,674.3 764.8,672.5 765.7,670.6 766.5,668.8 767.3,667.0 768.1,665.2 769.0,663.3 769.8,661.5 770.6,659.7 771.4,657.8 772.2,656.0 773.1,654.2 773.9,652.3 774.7,650.5 775.5,648.7 776.3,646.8 777.1,645.0 778.0,643.2 778.8,641.3 779.6,639.5 780.4,637.7 781.2,635.8 782.0,634.0 782.8,632.2 783.7,630.3 784.5,628.5 785.3,626.7 786.1,624.9 786.9,623.0 787.7,621.2 788.5,619.4 789.3,617.5 790.1,615.7 791.0,613.9 791.8,612.0 792.6,610.2 793.4,608.4 794.2,606.5 795.0,604.7 795.8,602.9 796.6,601.1 797.4,599.2 798.2,597.4 799.0,595.6 799.8,593.7 800.6,591.9 801.4,590.1 802.2,588.2 803.0,586.4 803.8,584.6 804.6,582.7 805.4,580.9 806.2,579.1 807.0,577.2 807.8,575.4 808.6,573.6 809.4,571.7 810.2,569.9 811.0,568.1 811.8,566.2 812.6,564.4 813.4,562.6 814.2,560.7 815.0,558.9 815.8,557.1 816.6,555.2 817.3,553.4 818.1,551.6 818.9,549.7 819.7,547.9 820.5,546.1 821.3,544.2 822.1,542.4 822.8,540.5 823.6,538.7 824.4,536.9 825.2,535.0 825.9,533.2 826.7,531.3 827.5,529.5 828.3,527.7 829.0,525.8 829.8,524.0 830.6,522.1 831.3,520.3 832.1,518.4 832.9,516.6 833.6,514.7 834.4,512.9 835.2,511.1 835.9,509.2 836.7,507.4 837.4,505.5 838.2,503.7 839.0,501.8 839.7,500.0 840.5,498.1 841.2,496.3 842.0,494.4 842.7,492.5 843.5,490.7 844.2,488.8 844.9,487.0 845.7,485.1 846.4,483.3 847.2,481.4 847.9,479.5 848.6,477.7 849.4,475.8 850.1,474.0 850.8,472.1 851.6,470.2 852.3,468.4 853.0,466.5 853.7,464.6 854.5,462.8 855.2,460.9 855.9,459.0 856.6,457.1 857.3,455.3 858.0,453.4 858.7,451.5 859.5,449.6 860.2,447.8 860.9,445.9 861.6,444.0 862.3,442.1 863.0,440.2 863.7,438.4 864.4,436.5 865.1,434.6 865.8,432.7 866.4,430.8 867.1,428.9 867.8,427.1 868.5,425.2 869.2,423.3 869.9,421.4 870.6,419.5 871.3,417.6 871.9,415.7 872.6,413.8 873.3,411.9 874.0,410.0 874.7,408.2 875.4,406.3 876.1,404.4 876.7,402.5 877.4,400.6 878.1,398.7 878.8,396.8 879.5,394.9 880.2,393.1 880.9,391.2 881.6,389.3 882.3,387.4 883.0,385.5 883.7,383.6 884.4,381.8 885.1,379.9 885.8,378.0 886.5,376.1 887.3,374.3 888.0,372.4 888.7,370.5 889.4,368.7 890.2,366.8 890.9,364.9 891.6,363.1 892.4,361.2 893.1,359.4 893.9,357.5 894.6,355.6 895.4,353.8 896.2,352.0 896.9,350.1 897.7,348.3 898.5,346.4 899.3,344.6 900.1,342.8 900.9,340.9 901.7,339.1 902.5,337.3 903.3,335.5 904.1,333.7 905.0,331.9 905.8,330.1 906.7,328.3 907.5,326.5 908.4,324.7 909.2,322.9 910.1,321.1 911.0,319.3 911.9,317.5 912.8,315.8 913.7,314.0 914.6,312.2 915.5,310.5 916.4,308.7 917.4,307.0 918.3,305.2 919.3,303.5 920.3,301.8 921.2,300.0 922.2,298.3 923.2,296.6 924.2,294.9 925.2,293.2 926.3,291.5 927.3,289.8 928.3,288.1 929.4,286.4 930.5,284.7 931.5,283.0 932.6,281.4 933.7,279.7 934.8,278.1 935.9,276.4 937.1,274.8 938.2,273.2 939.4,271.5 940.6,269.9 941.7,268.3 942.9,266.7 944.1,265.1 945.3,263.5 946.6,261.9 947.8,260.3 949.0,258.7 950.3,257.2 951.5,255.6 952.8,254.0 954.1,252.5 955.4,250.9 956.6,249.3 957.9,247.8 959.2,246.2 960.5,244.7 961.8,243.1 963.1,241.6 964.4,240.0 965.7,238.5 967.0,236.9 968.3,235.4 969.6,233.8 970.9,232.3 972.2,230.7 973.5,229.1 974.8,227.6 976.1,226.0 977.4,224.5 978.7,222.9 980.0,221.3 981.3,219.7 982.5,218.2 983.8,216.6 985.1,215.0 986.3,213.4 987.6,211.8 988.8,210.2 990.1,208.6 991.3,206.9 992.5,205.3 993.7,203.7 994.9,202.0 996.1,200.4 997.2,198.7 998.4,197.1 999.5,195.4 1000.6,193.7 1001.8,192.0 1002.8,190.3 1003.9,188.6 1005.0,186.9 1006.0,185.1 1007.1,183.4 1008.1,181.6 1009.2,179.9 1010.2,178.1 1011.2,176.4 1012.3,174.7 1013.3,173.0 1014.4,171.3 1015.5,169.7 1016.7,168.0 1017.9,166.5 1019.1,164.9 1020.3,163.4 1021.6,161.9 1023.0,160.5 1024.4,159.1 1025.8,157.8 1027.3,156.6 1028.9,155.4 1030.6,154.3 1032.4,153.2 1034.2,152.3 1036.1,151.4 1038.0,150.6 1039.9,150.0 1041.9,149.6 1043.8,149.3 1045.7,149.3 1047.5,149.5 1049.3,149.9 1050.9,150.6 1052.5,151.5 1054.0,152.6 1055.4,153.9 1056.7,155.3 1058.0,156.8 1059.3,158.4 1060.6,160.0 1061.8,161.6 1063.0,163.2 1064.1,164.8 1065.3,166.5 1066.4,168.1 1067.5,169.8 1068.6,171.5 1069.7,173.2 1070.7,174.9 1071.8,176.6 1072.8,178.3 1073.8,180.0 1074.8,181.8 1075.7,183.5 1076.7,185.3 1077.6,187.0 1078.5,188.8 1079.4,190.6 1080.3,192.4 1081.1,194.2 1082.0,196.0 1082.8,197.9 1083.6,199.7 1084.4,201.5 1085.2,203.4 1086.0,205.2 1086.8,207.1 1087.6,208.9 1088.3,210.8 1089.0,212.7 1089.8,214.5 1090.5,216.4 1091.2,218.3 1091.9,220.2 1092.6,222.1 1093.3,224.0 1094.0,225.9 1094.7,227.8 1095.3,229.7 1096.0,231.6 1096.6,233.5 1097.3,235.4 1097.9,237.3 1098.6,239.2 1099.2,241.1 1099.8,243.1 1100.5,245.0 1101.1,246.9 1101.7,248.8 1102.4,250.7 1103.0,252.6 1103.6,254.5 1104.2,256.5 1104.8,258.4 1105.4,260.3 1106.0,262.2 1106.6,264.1 1107.3,266.1 1107.9,268.0 1108.5,269.9 1109.1,271.8 1109.7,273.7 1110.3,275.6 1110.9,277.6 1111.5,279.5 1112.1,281.4 1112.7,283.3 1113.2,285.2 1113.8,287.1 1114.4,289.0 1115.0,291.0 1115.6,292.9 1116.2,294.8 1116.8,296.7 1117.4,298.6 1118.0,300.5 1118.6,302.4 1119.2,304.3 1119.8,306.3 1120.4,308.2 1121.0,310.1 1121.6,312.0 1122.2,313.9 1122.8,315.8 1123.4,317.7 1124.0,319.6 1124.6,321.5 1125.2,323.4 1125.8,325.3 1126.5,327.2 1127.1,329.1 1127.7,331.0 1128.3,332.9 1128.9,334.8 1129.6,336.7 1130.2,338.6 1130.8,340.5 1131.5,342.3 1132.1,344.2 1132.7,346.1 1133.4,348.0 1134.0,349.9 1134.7,351.8 1135.3,353.6 1136.0,355.5 1136.7,357.4 1137.3,359.3 1138.0,361.1 1138.7,363.0 1139.4,364.9 1140.0,366.7 1140.7,368.6 1141.4,370.5 1142.1,372.3 1142.8,374.2 1143.5,376.0 1144.3,377.9 1145.0,379.7 1145.7,381.6 1146.4,383.4 1147.2,385.3 1147.9,387.1 1148.7,389.0 1149.4,390.8 1150.2,392.6 1151.0,394.5 1151.7,396.3 1152.5,398.1 1153.3,400.0 1154.1,401.8 1154.9,403.6 1155.7,405.4 1156.5,407.2 1157.3,409.0 1158.2,410.9 1159.0,412.7 1159.9,414.5 1160.7,416.3 1161.6,418.1 1162.4,419.9 1163.3,421.7 1164.2,423.4 1165.1,425.2 1166.0,427.0 1166.8,428.8 1167.7,430.6 1168.7,432.4 1169.6,434.2 1170.5,435.9 1171.4,437.7 1172.3,439.5 1173.3,441.3 1174.2,443.0 1175.1,444.8 1176.1,446.6 1177.0,448.3 1178.0,450.1 1178.9,451.9 1179.9,453.6 1180.8,455.4 1181.8,457.1 1182.7,458.9 1183.7,460.7 1184.7,462.4 1185.6,464.2 1186.6,465.9 1187.6,467.7 1188.5,469.5 1189.5,471.2 1190.5,473.0 1191.5,474.7 1192.4,476.5 1193.4,478.2 1194.4,480.0 1195.4,481.8 1196.3,483.5 1197.3,485.3 1198.3,487.0 1199.2,488.8 1200.2,490.5 1201.2,492.3 1202.2,494.1 1203.1,495.8 1204.1,497.6 1205.0,499.3 1206.0,501.1 1207.0,502.9 1207.9,504.6 1208.9,506.4 1209.8,508.2 1210.8,509.9 1211.7,511.7 1212.7,513.5 1213.6,515.2 1214.5,517.0 1215.4,518.8 1216.4,520.6 1217.3,522.3 1218.2,524.1 1219.1,525.9 1220.0,527.7 1220.9,529.5 1221.8,531.3 1222.7,533.0 1223.6,534.8 1224.4,536.6 1225.3,538.4 1226.2,540.2 1227.0,542.0 1227.9,543.8 1228.7,545.6 1229.6,547.5 1230.4,549.3 1231.2,551.1 1232.0,552.9 1232.8,554.7 1233.6,556.6 1234.4,558.4 1235.2,560.2 1235.9,562.0 1236.7,563.9 1237.5,565.7 1238.2,567.6 1238.9,569.4 1239.7,571.3 1240.4,573.1 1241.1,575.0 1241.8,576.9 1242.5,578.7 1243.1,580.6 1243.8,582.5 1244.4,584.4 1245.1,586.2 1245.7,588.1 1246.3,590.0 1246.9,591.9 1247.5,593.8 1248.1,595.7 1248.7,597.6 1249.3,599.5 1249.9,601.4 1250.4,603.4 1251.0,605.3 1251.5,607.2 1252.1,609.1 1252.6,611.1 1253.1,613.0 1253.6,614.9 1254.1,616.9 1254.6,618.8 1255.1,620.7 1255.6,622.7 1256.0,624.6 1256.5,626.6 1257.0,628.5 1257.4,630.5 1257.9,632.4 1258.3,634.4 1258.8,636.4 1259.2,638.3 1259.6,640.3 1260.0,642.2 1260.4,644.2 1260.9,646.2 1261.3,648.2 1261.7,650.1 1262.0,652.1 1262.4,654.1 1262.8,656.1 1263.2,658.0 1263.6,660.0 1263.9,662.0 1264.3,664.0 1264.7,666.0 1265.0,667.9 1265.4,669.9 1265.8,671.9 1266.1,673.9 1266.5,675.9 1266.8,677.9 1267.1,679.9 1267.5,681.9 1267.8,683.8 1268.2,685.8 1268.5,687.8 1268.8,689.8 1269.2,691.8 1269.5,693.8 1269.8,695.8 1270.2,697.8 1270.5,699.8 1270.8,701.8 1271.1,703.8 1271.5,705.8 1271.8,707.7 1272.1,709.7 1272.4,711.7 1272.7,713.7 1273.1,715.7 1273.4,717.7 1273.7,719.7 1274.0,721.7 1274.4,723.7 1274.7,725.6 1275.0,727.6 1275.4,729.6 1275.7,731.6 1276.0,733.6 1276.3,735.6 1276.7,737.5 1277.0,739.5 1277.3,741.5 1277.7,743.5 1278.0,745.5 1278.3,747.4 1278.7,749.4 1279.0,751.4 1279.3,753.4 1279.7,755.3 1280.0,757.3 1280.4,759.3 1280.7,761.3 1281.0,763.2 1281.4,765.2 1281.7,767.2 1282.1,769.2 1282.4,771.1 1282.7,773.1 1283.1,775.1 1283.4,777.0 1283.8,779.0 1284.1,781.0 1284.5,782.9 1284.8,784.9 1285.1,786.9 1285.5,788.8 1285.8,790.8 1286.2,792.8 1286.5,794.7 1286.9,796.7 1287.2,798.7 1287.6,800.6 1287.9,802.6 1288.3,804.6 1288.6,806.5 1289.0,808.5 1289.3,810.5 1289.7,812.4 1290.0,814.4 1290.4,816.3 1290.7,818.3 1291.1,820.3 1291.5,822.2 1291.8,824.2 1292.2,826.2 1292.5,828.1 1292.9,830.1 1293.2,832.0 1293.6,834.0 1294.0,836.0 1294.3,837.9 1294.7,839.9 1295.0,841.8 1295.4,843.8 1295.7,845.8 1296.1,847.7 1296.5,849.7 1296.8,851.6 1297.2,853.6 1297.6,855.6 1297.9,857.5 1298.3,859.5 1298.6,861.4 1299.0,863.4 1299.4,865.3 1299.7,867.3 1300.1,869.3 1300.5,871.2 1300.8,873.2 1301.2,875.1 1301.6,877.1 1301.9,879.1 1302.3,881.0 1302.7,883.0 1303.0,884.9 1303.4,886.9 1303.8,888.9 1304.1,890.8 1304.5,892.8 1304.9,894.7 1305.2,896.7 1305.6,898.7 1306.0,900.6 1306.3,902.6 1306.7,904.5 1307.1,906.5 1307.4,908.5 1307.8,910.4 1308.2,912.4 1308.6,914.3 1308.9,916.3 1309.3,918.3 1309.7,920.2 1310.0,922.2 1310.4,924.1 1310.8,926.1 1311.2,928.1 1311.5,930.0 1311.9,932.0 1312.3,934.0 1312.7,935.9 1313.0,937.9 1313.4,939.9 1313.8,941.8 1314.2,943.8 1314.5,945.8 1314.9,947.7 1315.3,949.7 1315.7,951.7 1316.0,953.6 1316.4,955.6 1316.8,957.6 1317.2,959.5 1317.5,961.5 1317.9,963.5 1318.3,965.4 1318.7,967.4 1319.0,969.4 1319.4,971.4 1319.8,973.3 1320.2,975.3 1320.6,977.3 1320.9,979.3 1321.3,981.2 1321.7,983.2 1322.1,985.2 1322.5,987.2 1322.8,989.1 1323.2,991.1 1323.6,993.1 1324.0,995.0 1324.4,997.0 1324.8,999.0 1325.2,1001.0 1325.6,1002.9 1326.0,1004.9 1326.4,1006.9 1326.8,1008.8 1327.2,1010.8 1327.7,1012.8 1328.1,1014.7 1328.5,1016.7 1328.9,1018.7 1329.4,1020.6 1329.8,1022.6 1330.3,1024.6 1330.7,1026.5 1331.2,1028.5 1331.6,1030.4 1332.1,1032.4 1332.6,1034.3 1333.1,1036.3 1333.5,1038.2 1334.0,1040.2 1334.5,1042.1 1335.0,1044.1 1335.6,1046.0 1336.1,1048.0 1336.6,1049.9 1337.1,1051.8 1337.7,1053.7 1338.2,1055.7 1338.8,1057.6 1339.4,1059.5 1339.9,1061.4 1340.5,1063.4 1341.1,1065.3 1341.7,1067.2 1342.3,1069.1 1342.9,1071.0 1343.6,1072.9 1344.2,1074.8 1344.9,1076.7 1345.5,1078.6 1346.2,1080.5 1346.9,1082.4 1347.6,1084.2 1348.3,1086.1 1349.0,1088.0 1349.7,1089.8 1350.4,1091.7 1351.2,1093.6 1351.9,1095.4 1352.7,1097.3 1353.5,1099.1 1354.3,1101.0 1355.1,1102.8 1355.9,1104.6 1356.7,1106.5 1357.6,1108.3 1358.5,1110.1 1359.3,1111.9 1360.2,1113.7 1361.1,1115.6 1362.0,1117.4 1363.0,1119.2 1363.9,1120.9 1364.9,1122.7 1365.8,1124.5 1366.8,1126.3 1367.8,1128.0 1368.8,1129.8 1369.9,1131.6 1370.9,1133.3 1372.0,1135.0 1373.1,1136.8 1374.1,1138.5 1375.2,1140.2 1376.4,1141.9 1377.5,1143.6 1378.7,1145.2 1379.8,1146.9 1381.0,1148.5 1382.2,1150.1 1383.4,1151.8 1384.7,1153.4 1385.9,1154.9 1387.2,1156.5 1388.4,1158.0 1389.7,1159.6 1391.0,1161.1 1392.4,1162.6 1393.7,1164.0 1395.1,1165.5 1396.4,1166.9 1397.8,1168.3 1399.2,1169.7 1400.6,1171.0 1402.1,1172.4 1403.5,1173.7 1405.0,1174.9 1406.5,1176.2 1408.0,1177.4 1409.5,1178.6 1411.0,1179.8 1412.6,1180.9 1414.1,1182.1 1415.7,1183.2 1417.3,1184.2 1418.9,1185.2 1420.6,1186.2 1422.2,1187.2 1423.9,1188.1 1425.6,1189.0 1427.3,1189.9 1429.0,1190.7 1430.7,1191.5 1432.5,1192.3 1434.2,1193.1 1436.0,1193.8 1437.8,1194.5 1439.6,1195.2 1441.4,1195.8 1443.2,1196.4 1445.1,1197.0 1446.9,1197.6 1448.8,1198.1 1450.6,1198.7 1452.5,1199.2 1454.4,1199.6 1456.3,1200.1 1458.2,1200.5 1460.2,1201.0 1462.1,1201.4 1464.0,1201.7 1466.0,1202.1 1468.0,1202.5 1469.9,1202.8 1471.9,1203.1 1473.9,1203.4 1475.9,1203.7 1477.9,1203.9 1479.9,1204.2 1481.9,1204.4 1483.9,1204.7 1485.9,1204.9 1488.0,1205.1 1490.0,1205.3 1492.0,1205.5 1494.1,1205.7 1496.1,1205.8 1498.1,1206.0 1500.2,1206.1 1502.2,1206.3 1504.3,1206.4 1506.3,1206.5 1508.4,1206.7 1510.4,1206.8 1512.5,1206.9 1514.6,1207.0 1516.6,1207.1 1518.7,1207.2 1520.7,1207.4 1522.8,1207.5 1524.8,1207.6 1526.9,1207.7 1528.9,1207.8 1531.0,1207.9 1533.1,1208.0 1535.1,1208.1 1537.1,1208.2 1539.2,1208.3 1541.2,1208.4 1543.3,1208.5 1545.3,1208.6 1547.4,1208.7 1549.4,1208.8 1551.5,1208.9 1553.5,1209.0 1555.5,1209.1 1557.6,1209.2 1559.6,1209.3 1561.7,1209.3 1563.7,1209.4 1565.7,1209.5 1567.8,1209.6 1569.8,1209.7 1571.8,1209.8 1573.9,1209.9 1575.9,1210.0 1577.9,1210.1 1580.0,1210.1 1582.0,1210.2 1584.0,1210.3 1586.0,1210.4 1588.1,1210.5 1590.1,1210.6 1592.1,1210.6 1594.1,1210.7 1596.2,1210.8 1598.2,1210.9 1600.2,1211.0 1602.2,1211.1 1604.3,1211.1 1606.3,1211.2 1608.3,1211.3 1610.3,1211.4 1612.3,1211.4 1614.4,1211.5 1616.4,1211.6 1618.4,1211.7 1620.4,1211.7 1622.4,1211.8 1624.4,1211.9 1626.4,1211.9 1628.5,1212.0 1630.5,1212.1 1632.5,1212.2 1634.5,1212.2 1636.5,1212.3 1638.5,1212.4 1640.5,1212.4 1642.5,1212.5 1644.5,1212.6 1646.5,1212.6 1648.5,1212.7 1650.6,1212.8 1652.6,1212.8 1654.6,1212.9 1656.6,1213.0 1658.6,1213.0 1660.6,1213.1 1662.6,1213.1 1664.6,1213.2 1666.6,1213.3 1668.6,1213.3 1670.6,1213.4 1672.6,1213.4 1674.6,1213.5 1676.6,1213.6 1678.6,1213.6 1680.6,1213.7 1682.6,1213.7 1684.6,1213.8 1686.6,1213.9 1688.6,1213.9 1690.6,1214.0 1692.6,1214.0 1694.6,1214.1 1696.6,1214.1 1698.5,1214.2 1700.5,1214.2 1702.5,1214.3 1704.5,1214.3 1706.5,1214.4 1708.5,1214.5 1710.5,1214.5 1712.5,1214.6 1714.5,1214.6 1716.5,1214.7 1718.5,1214.7 1720.5,1214.8 1722.5,1214.8 1724.4,1214.9 1726.4,1214.9 1728.4,1215.0 1730.4,1215.0 1732.4,1215.1 1734.4,1215.1 1736.4,1215.2 1738.4,1215.2 1740.4,1215.3 1742.3,1215.3 1744.3,1215.3 1746.3,1215.4 1748.3,1215.4 1750.3,1215.5 1752.3,1215.5 1754.3,1215.6 1756.3,1215.6 1758.2,1215.7 1760.2,1215.7 1762.2,1215.8 1764.2,1215.8 1766.2,1215.8 1768.2,1215.9 1770.2,1215.9 1772.1,1216.0 1774.1,1216.0 1776.1,1216.1 1778.1,1216.1 1780.1,1216.1 1782.1,1216.2 1784.1,1216.2 1786.0,1216.3 1788.0,1216.3 1790.0,1216.4 1792.0,1216.4 1794.0,1216.4 1796.0,1216.5 1798.0,1216.5 1799.9,1216.6 1801.9,1216.6 1803.9,1216.7 1805.9,1216.7 1807.9,1216.7 1809.9,1216.8 1811.8,1216.8 1813.8,1216.9 1815.8,1216.9 1817.8,1216.9 1819.8,1217.0 1821.8,1217.0 1823.8,1217.1 1825.7,1217.1 1827.7,1217.1 1829.7,1217.2 1831.7,1217.2 1833.7,1217.3 1835.7,1217.3 1837.6,1217.3 1839.6,1217.4 1841.6,1217.4 1843.6,1217.5 1845.6,1217.5 1847.6,1217.5 1849.6,1217.6 1851.6,1217.6 1853.5,1217.7 1855.5,1217.7 1857.5,1217.7 1859.5,1217.8 1861.5,1217.8 1863.5,1217.9 1865.5,1217.9 1867.5,1217.9 1869.4,1218.0 1871.4,1218.0 1873.4,1218.1 1875.4,1218.1 1877.4,1218.1 1879.4,1218.2 1881.4,1218.2 1883.4,1218.3 1885.4,1218.3 1887.3,1218.3 1889.3,1218.4 1891.3,1218.4 1893.3,1218.5 1895.3,1218.5 1897.3,1218.5 1899.3,1218.6 1901.3,1218.6 1903.3,1218.7 1905.3,1218.7 1907.3,1218.8 1909.3,1218.8 1911.3,1218.8 1913.3,1218.9 1915.3,1218.9 1917.3,1219.0 1919.2,1219.0 1921.2,1219.1 1923.2,1219.1 1925.2,1219.1 1927.2,1219.2 1929.2,1219.2 1931.2,1219.3 1933.2,1219.3 1935.2,1219.4 1937.2,1219.4 1939.2,1219.5 1941.2,1219.5 1943.2,1219.5 1945.2,1219.6 1947.2,1219.6 1949.3,1219.7 1951.3,1219.7 1953.3,1219.8 1955.3,1219.8 1957.3,1219.9 1959.3,1219.9 1961.3,1220.0 1963.3,1220.0 1965.3,1220.1 1967.3,1220.1 1969.3,1220.2 1971.3,1220.2 1973.3,1220.3 1975.3,1220.3 1977.4,1220.4 1979.4,1220.4 1981.4,1220.5 1983.4,1220.5 1985.4,1220.6 1987.4,1220.6 1989.4,1220.7 1991.5,1220.7 1993.5,1220.8 1995.5,1220.8 1997.5,1220.9 1999.5,1220.9 2001.6,1221.0 2003.6,1221.1 2005.6,1221.1 2007.6,1221.2 2009.6,1221.2 2011.7,1221.3 2013.7,1221.3 2015.7,1221.4 2017.7,1221.5 2019.8,1221.5 2021.8,1221.6 2023.8,1221.6 2025.8,1221.7 2027.9,1221.7 2029.9,1221.8 2031.9,1221.9 2034.0,1221.9 2036.0,1222.0 2038.0,1222.1 2040.1,1222.1 2042.1,1222.2 2044.1,1222.2 2046.2,1222.3 2048.2,1222.4 2050.3,1222.4 2052.3,1222.5 2054.3,1222.6" fill="none" stroke="#8308ec" stroke-width="10" stroke-linejoin="round" stroke-linecap="butt"/>
<rect x="1480" y="180.0" width="120" height="12" fill="#000000"/>
<text x="1619" y="207.5" font-size="51" font-weight="bold" letter-spacing="1.1">PVC</text>
<rect x="1482" y="238.3" width="120" height="12" fill="#ff0000"/>
<text x="1619" y="270.0" font-size="51" font-weight="bold" letter-spacing="1.1">PVC(1)-curc</text>
<rect x="1487" y="309.0" width="120" height="12" fill="#7a2e9e"/>
<text x="1619" y="334.9" font-size="51" font-weight="bold" letter-spacing="1.1">PVC(2)-esterC18</text>
<rect x="1484" y="369.5" width="121" height="12" fill="#2f72bf"/>
<text x="1619" y="399.9" font-size="51" font-weight="bold" letter-spacing="1.1">PVC(3)-esterC10</text>
<rect x="1489" y="435.0" width="121" height="12" fill="#8a3a10"/>
<text x="1619" y="463.4" font-size="51" font-weight="bold" letter-spacing="1.1">PVC(4)-etherC10</text>
</svg>
</body>
</html>
